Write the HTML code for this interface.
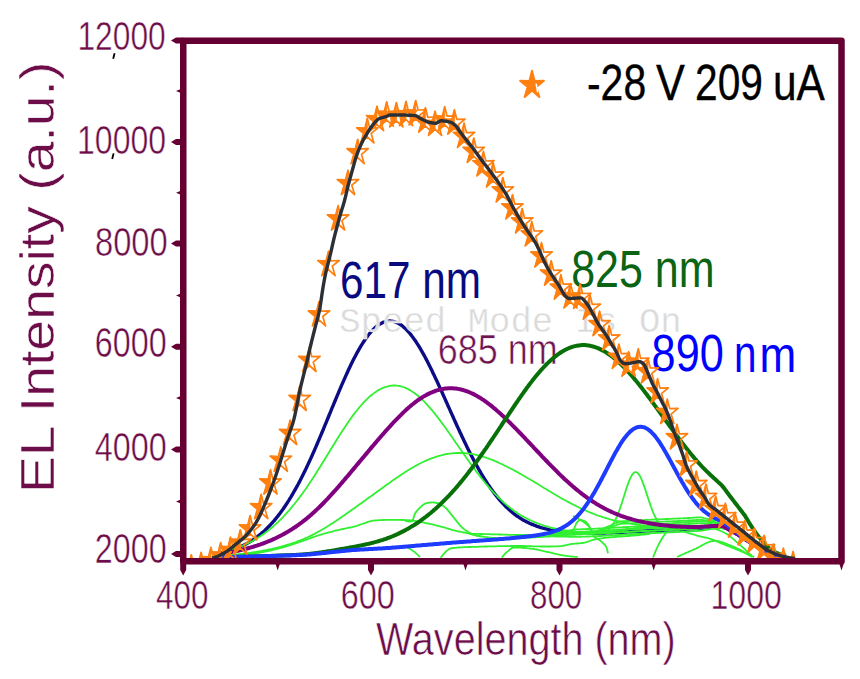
<!DOCTYPE html>
<html><head><meta charset="utf-8"><style>
html,body{margin:0;padding:0;background:#fff;}
svg{display:block;}
text{font-family:"Liberation Sans",sans-serif;}
</style></head><body>
<svg width="860" height="679" viewBox="0 0 860 679">
<rect width="860" height="679" fill="#fff"/>
<text transform="translate(77.48,50.00) scale(0.7846,1)" font-size="40.43" fill="#6c0c48" style="font-family:Liberation Sans" stroke="#fff" stroke-width="0.5">12000</text><text transform="translate(77.05,153.60) scale(0.7920,1)" font-size="40.43" fill="#6c0c48" style="font-family:Liberation Sans" stroke="#fff" stroke-width="0.5">10000</text><text transform="translate(95.00,256.00) scale(0.7908,1)" font-size="41.30" fill="#6c0c48" style="font-family:Liberation Sans" stroke="#fff" stroke-width="0.5">8000</text><text transform="translate(94.81,357.00) scale(0.7656,1)" font-size="42.18" fill="#6c0c48" style="font-family:Liberation Sans" stroke="#fff" stroke-width="0.5">6000</text><text transform="translate(94.80,460.80) scale(0.7821,1)" font-size="41.30" fill="#6c0c48" style="font-family:Liberation Sans" stroke="#fff" stroke-width="0.5">4000</text><text transform="translate(94.81,563.40) scale(0.7765,1)" font-size="41.59" fill="#6c0c48" style="font-family:Liberation Sans" stroke="#fff" stroke-width="0.5">2000</text><text transform="translate(156.02,608.60) scale(0.7792,1)" font-size="40.43" fill="#6c0c48" style="font-family:Liberation Sans" stroke="#fff" stroke-width="0.5">400</text><text transform="translate(340.82,608.80) scale(0.7921,1)" font-size="40.86" fill="#6c0c48" style="font-family:Liberation Sans" stroke="#fff" stroke-width="0.5">600</text><text transform="translate(530.05,608.80) scale(0.7664,1)" font-size="40.86" fill="#6c0c48" style="font-family:Liberation Sans" stroke="#fff" stroke-width="0.5">800</text><text transform="translate(710.44,608.80) scale(0.7855,1)" font-size="40.86" fill="#6c0c48" style="font-family:Liberation Sans" stroke="#fff" stroke-width="0.5">1000</text><path d="M114.6,53.2 L113.2,58.8" stroke="#000" stroke-width="1.8"/><path d="M113.6,153.4 L112.2,159" stroke="#000" stroke-width="1.8"/><text transform="translate(376.00,654.91) scale(0.8504,1)" font-size="46.52" fill="#6c0c48" style="font-family:Liberation Sans" stroke="#fff" stroke-width="0.6">Wavelength (nm)</text><text transform="translate(53.5,493.1) rotate(-90) scale(1.143,1)" font-size="48.4" fill="#6c0c48" stroke="#fff" stroke-width="0.5">EL Intensity (a.u.)</text><text transform="translate(587.00,100.40) scale(0.8324,1)" font-size="49.17" fill="#000" style="font-family:Liberation Sans" stroke="#000" stroke-width="0.35">-28</text><text transform="translate(655.96,100.20) scale(0.8658,1)" font-size="50.00" fill="#000" style="font-family:Liberation Sans" stroke="#000" stroke-width="0.35">V</text><text transform="translate(695.02,100.40) scale(0.8275,1)" font-size="49.17" fill="#000" style="font-family:Liberation Sans" stroke="#000" stroke-width="0.35">209</text><text transform="translate(772.90,100.20) scale(0.8493,1)" font-size="50.00" fill="#000" style="font-family:Liberation Sans" stroke="#000" stroke-width="0.35">uA</text><text transform="translate(340.05,298.23) scale(0.8079,1)" font-size="52.36" fill="#0a0a80" style="font-family:Liberation Sans" >617 nm</text><text transform="translate(437.78,364.03) scale(0.8284,1)" font-size="43.40" fill="#701450" style="font-family:Liberation Sans" stroke="#fff" stroke-width="0.6">685 nm</text><text transform="translate(571.20,287.05) scale(0.8207,1)" font-size="52.39" fill="#0a6414" style="font-family:Liberation Sans" >825 nm</text><text transform="translate(651.58,370.64) scale(0.8443,1)" font-size="51.23" fill="#0000ff" style="font-family:Liberation Sans" >890</text><text transform="translate(733.95,372.40) scale(0.7880,1)" font-size="51.38" fill="#0000ff" style="font-family:Liberation Sans" >n</text><text transform="translate(759.52,372.39) scale(0.8880,1)" font-size="49.61" fill="#0000ff" style="font-family:Liberation Sans" >m</text>
<defs><clipPath id="pc"><rect x="183" y="40" width="659" height="521"/></clipPath></defs>
<g clip-path="url(#pc)">
<path d="M214.0,554.5 L215.0,554.3 L216.0,554.1 L217.0,553.9 L218.0,553.7 L219.0,553.5 L220.0,553.3 L221.0,553.1 L222.0,552.8 L223.0,552.6 L224.0,552.3 L225.0,552.1 L226.0,551.8 L227.0,551.5 L228.0,551.3 L229.0,551.0 L230.0,550.7 L231.0,550.3 L232.0,550.0 L233.0,549.7 L234.0,549.3 L235.0,549.0 L236.0,548.6 L237.0,548.2 L238.0,547.8 L239.0,547.4 L240.0,546.9 L241.0,546.5 L242.0,546.0 L243.0,545.5 L244.0,545.1 L245.0,544.5 L246.0,544.0 L247.0,543.5 L248.0,542.9 L249.0,542.3 L250.0,541.7 L251.0,541.1 L252.0,540.5 L253.0,539.8 L254.0,539.1 L255.0,538.4 L256.0,537.7 L257.0,537.0 L258.0,536.2 L259.0,535.4 L260.0,534.6 L261.0,533.8 L262.0,532.9 L263.0,532.1 L264.0,531.2 L265.0,530.3 L266.0,529.3 L267.0,528.3 L268.0,527.3 L269.0,526.3 L270.0,525.3 L271.0,524.2 L272.0,523.1 L273.0,522.0 L274.0,520.8 L275.0,519.6 L276.0,518.4 L277.0,517.2 L278.0,515.9 L279.0,514.6 L280.0,513.3 L281.0,511.9 L282.0,510.6 L283.0,509.2 L284.0,507.7 L285.0,506.2 L286.0,504.7 L287.0,503.2 L288.0,501.7 L289.0,500.1 L290.0,498.4 L291.0,496.8 L292.0,495.1 L293.0,493.4 L294.0,491.7 L295.0,489.9 L296.0,488.1 L297.0,486.3 L298.0,484.5 L299.0,482.6 L300.0,480.7 L301.0,478.8 L302.0,476.8 L303.0,474.8 L304.0,472.8 L305.0,470.7 L306.0,468.7 L307.0,466.6 L308.0,464.4 L309.0,462.3 L310.0,460.1 L311.0,457.9 L312.0,455.7 L313.0,453.4 L314.0,451.2 L315.0,448.9 L316.0,446.6 L317.0,444.3 L318.0,441.9 L319.0,439.6 L320.0,437.2 L321.0,434.8 L322.0,432.5 L323.0,430.1 L324.0,427.6 L325.0,425.2 L326.0,422.8 L327.0,420.4 L328.0,418.0 L329.0,415.5 L330.0,413.1 L331.0,410.7 L332.0,408.2 L333.0,405.8 L334.0,403.4 L335.0,401.0 L336.0,398.6 L337.0,396.2 L338.0,393.8 L339.0,391.4 L340.0,389.1 L341.0,386.7 L342.0,384.4 L343.0,382.1 L344.0,379.9 L345.0,377.6 L346.0,375.4 L347.0,373.2 L348.0,371.0 L349.0,368.8 L350.0,366.7 L351.0,364.6 L352.0,362.6 L353.0,360.6 L354.0,358.6 L355.0,356.7 L356.0,354.8 L357.0,352.9 L358.0,351.1 L359.0,349.3 L360.0,347.6 L361.0,345.9 L362.0,344.3 L363.0,342.7 L364.0,341.2 L365.0,339.7 L366.0,338.3 L367.0,336.9 L368.0,335.5 L369.0,334.3 L370.0,333.0 L371.0,331.9 L372.0,330.8 L373.0,329.7 L374.0,328.7 L375.0,327.8 L376.0,326.9 L377.0,326.1 L378.0,325.3 L379.0,324.6 L380.0,324.0 L381.0,323.4 L382.0,322.9 L383.0,322.4 L384.0,322.0 L385.0,321.7 L386.0,321.5 L387.0,321.3 L388.0,321.1 L389.0,321.0 L390.0,321.0 L391.0,321.1 L392.0,321.2 L393.0,321.4 L394.0,321.6 L395.0,321.9 L396.0,322.3 L397.0,322.7 L398.0,323.2 L399.0,323.7 L400.0,324.3 L401.0,325.0 L402.0,325.7 L403.0,326.5 L404.0,327.4 L405.0,328.3 L406.0,329.2 L407.0,330.3 L408.0,331.3 L409.0,332.5 L410.0,333.6 L411.0,334.9 L412.0,336.2 L413.0,337.5 L414.0,338.9 L415.0,340.3 L416.0,341.8 L417.0,343.3 L418.0,344.9 L419.0,346.5 L420.0,348.2 L421.0,349.9 L422.0,351.6 L423.0,353.4 L424.0,355.2 L425.0,357.0 L426.0,358.9 L427.0,360.8 L428.0,362.8 L429.0,364.7 L430.0,366.7 L431.0,368.7 L432.0,370.8 L433.0,372.9 L434.0,374.9 L435.0,377.1 L436.0,379.2 L437.0,381.3 L438.0,383.5 L439.0,385.7 L440.0,387.9 L441.0,390.1 L442.0,392.3 L443.0,394.5 L444.0,396.7 L445.0,398.9 L446.0,401.2 L447.0,403.4 L448.0,405.7 L449.0,407.9 L450.0,410.1 L451.0,412.4 L452.0,414.6 L453.0,416.8 L454.0,419.1 L455.0,421.3 L456.0,423.5 L457.0,425.7 L458.0,427.9 L459.0,430.0 L460.0,432.2 L461.0,434.3 L462.0,436.5 L463.0,438.6 L464.0,440.7 L465.0,442.8 L466.0,444.8 L467.0,446.9 L468.0,448.9 L469.0,450.9 L470.0,452.9 L471.0,454.9 L472.0,456.8 L473.0,458.7 L474.0,460.6 L475.0,462.5 L476.0,464.3 L477.0,466.2 L478.0,467.9 L479.0,469.7 L480.0,471.4 L481.0,473.2 L482.0,474.8 L483.0,476.5 L484.0,478.1 L485.0,479.7 L486.0,481.3 L487.0,482.8 L488.0,484.4 L489.0,485.8 L490.0,487.3 L491.0,488.7 L492.0,490.1 L493.0,491.5 L494.0,492.8 L495.0,494.2 L496.0,495.4 L497.0,496.7 L498.0,497.9 L499.0,499.1 L500.0,500.3 L501.0,501.4 L502.0,502.5 L503.0,503.6 L504.0,504.7 L505.0,505.7 L506.0,506.7 L507.0,507.7 L508.0,508.6 L509.0,509.6 L510.0,510.4 L511.0,511.3 L512.0,512.2 L513.0,513.0 L514.0,513.8 L515.0,514.5 L516.0,515.3 L517.0,516.0 L518.0,516.7 L519.0,517.4 L520.0,518.0 L521.0,518.6 L522.0,519.3 L523.0,519.9 L524.0,520.4 L525.0,521.0 L526.0,521.5 L527.0,522.0 L528.0,522.5 L529.0,523.0 L530.0,523.5 L531.0,523.9 L532.0,524.3 L533.0,524.7 L534.0,525.1 L535.0,525.5 L536.0,525.9 L537.0,526.3 L538.0,526.6 L539.0,526.9 L540.0,527.3 L541.0,527.6 L542.0,527.9 L543.0,528.1 L544.0,528.4 L545.0,528.7 L546.0,528.9 L547.0,529.2 L548.0,529.4 L549.0,529.6 L550.0,529.9 L551.0,530.1 L552.0,530.3 L553.0,530.4 L554.0,530.6 L555.0,530.8 L556.0,531.0 L557.0,531.1 L558.0,531.3 L559.0,531.4 L560.0,531.5 L561.0,531.7 L562.0,531.8 L563.0,531.9 L564.0,532.0 L565.0,532.1 L566.0,532.2 L567.0,532.3 L568.0,532.4 L569.0,532.5 L570.0,532.5 L571.0,532.6 L572.0,532.7 L573.0,532.7 L574.0,532.8 L575.0,532.9 L576.0,532.9 L577.0,532.9 L578.0,533.0 L579.0,533.0 L580.0,533.1 L581.0,533.1 L582.0,533.1 L583.0,533.1 L584.0,533.2 L585.0,533.2 L586.0,533.2 L587.0,533.2 L588.0,533.2 L589.0,533.2 L590.0,533.2 L591.0,533.2 L592.0,533.2 L593.0,533.2 L594.0,533.2 L595.0,533.2 L596.0,533.2 L597.0,533.2 L598.0,533.1 L599.0,533.1 L600.0,533.1 L601.0,533.1 L602.0,533.1 L603.0,533.0 L604.0,533.0 L605.0,533.0 L606.0,532.9 L607.0,532.9 L608.0,532.9 L609.0,532.8 L610.0,532.8 L611.0,532.7 L612.0,532.7 L613.0,532.6 L614.0,532.6 L615.0,532.6 L616.0,532.5 L617.0,532.5 L618.0,532.4 L619.0,532.4 L620.0,532.3 L621.0,532.3 L622.0,532.2 L623.0,532.2 L624.0,532.1 L625.0,532.0 L626.0,532.0 L627.0,531.9 L628.0,531.9 L629.0,531.8 L630.0,531.8 L631.0,531.7 L632.0,531.7 L633.0,531.6 L634.0,531.6 L635.0,531.5 L636.0,531.5 L637.0,531.4 L638.0,531.3 L639.0,531.3 L640.0,531.2 L641.0,531.2 L642.0,531.1 L643.0,531.1 L644.0,531.0 L645.0,531.0 L646.0,530.9 L647.0,530.9 L648.0,530.8 L649.0,530.8 L650.0,530.7 L651.0,530.7 L652.0,530.6 L653.0,530.6 L654.0,530.6 L655.0,530.5 L656.0,530.5 L657.0,530.4 L658.0,530.4 L659.0,530.3 L660.0,530.3 L661.0,530.3 L662.0,530.2 L663.0,530.2 L664.0,530.1 L665.0,530.1 L666.0,530.0 L667.0,530.0 L668.0,530.0 L669.0,529.9 L670.0,529.9 L671.0,529.8 L672.0,529.8 L673.0,529.7 L674.0,529.7 L675.0,529.7 L676.0,529.6 L677.0,529.6 L678.0,529.5 L679.0,529.5 L680.0,529.4 L681.0,529.4 L682.0,529.3 L683.0,529.3 L684.0,529.2 L685.0,529.2 L686.0,529.1 L687.0,529.1 L688.0,529.0 L689.0,529.0 L690.0,528.9 L691.0,528.9 L692.0,528.8 L693.0,528.7 L694.0,528.7 L695.0,528.6 L696.0,528.6 L697.0,528.5 L698.0,528.4 L699.0,528.3 L700.0,528.3 L701.0,528.2 L702.0,528.1 L703.0,528.0 L704.0,527.8 L705.0,527.7 L706.0,527.6 L707.0,527.5 L708.0,527.4 L709.0,527.3 L710.0,527.1 L711.0,527.0 L712.0,526.9 L713.0,526.8 L714.0,526.8 L715.0,526.7 L716.0,526.6 L717.0,526.6 L718.0,526.5 L719.0,526.5 L720.0,526.5 L721.0,526.6 L722.0,526.7 L723.0,527.0 L724.0,527.4 L725.0,527.8 L726.0,528.3 L727.0,528.8 L728.0,529.3 L729.0,529.9 L730.0,530.4 L731.0,531.0 L732.0,531.5 L733.0,532.0 L734.0,532.5 L735.0,533.1 L736.0,533.7 L737.0,534.3 L738.0,534.9 L739.0,535.5 L740.0,536.2 L741.0,536.8 L742.0,537.5 L743.0,538.1 L744.0,538.8 L745.0,539.4 L746.0,540.0 L747.0,540.6 L748.0,541.2 L749.0,541.9 L750.0,542.5 L751.0,543.1 L752.0,543.7 L753.0,544.4 L754.0,545.0 L755.0,545.6 L756.0,546.2 L757.0,546.8 L758.0,547.4 L759.0,547.9 L760.0,548.5 L761.0,549.1 L762.0,549.6 L763.0,550.2 L764.0,550.7 L765.0,551.3 L766.0,551.8 L767.0,552.4 L768.0,552.9 L769.0,553.4 L770.0,553.9 L771.0,554.3 L772.0,554.8 L773.0,555.2 L774.0,555.5 L775.0,555.8 L776.0,556.1 L777.0,556.5 L778.0,556.8 L779.0,557.0 L780.0,557.3 L781.0,557.5 L782.0,557.7 L783.0,557.9 L784.0,558.0 L785.0,558.1 L786.0,558.2" fill="none" stroke="#0c0c86" stroke-width="3.4"/>
<g fill="none" stroke="#30f030" stroke-width="1.8"><path d="M214.0,553.9 L215.0,553.8 L216.0,553.6 L217.0,553.4 L218.0,553.1 L219.0,552.9 L220.0,552.7 L221.0,552.5 L222.0,552.3 L223.0,552.0 L224.0,551.8 L225.0,551.5 L226.0,551.3 L227.0,551.0 L228.0,550.7 L229.0,550.5 L230.0,550.2 L231.0,549.9 L232.0,549.6 L233.0,549.2 L234.0,548.9 L235.0,548.6 L236.0,548.3 L237.0,547.9 L238.0,547.5 L239.0,547.2 L240.0,546.8 L241.0,546.4 L242.0,546.0 L243.0,545.6 L244.0,545.1 L245.0,544.7 L246.0,544.2 L247.0,543.8 L248.0,543.3 L249.0,542.8 L250.0,542.3 L251.0,541.8 L252.0,541.2 L253.0,540.7 L254.0,540.1 L255.0,539.5 L256.0,539.0 L257.0,538.3 L258.0,537.7 L259.0,537.1 L260.0,536.5 L261.0,535.8 L262.0,535.1 L263.0,534.4 L264.0,533.7 L265.0,533.0 L266.0,532.2 L267.0,531.5 L268.0,530.7 L269.0,529.9 L270.0,529.1 L271.0,528.3 L272.0,527.5 L273.0,526.6 L274.0,525.7 L275.0,524.8 L276.0,523.9 L277.0,523.0 L278.0,522.1 L279.0,521.1 L280.0,520.1 L281.0,519.1 L282.0,518.1 L283.0,517.1 L284.0,516.0 L285.0,514.9 L286.0,513.8 L287.0,512.7 L288.0,511.6 L289.0,510.5 L290.0,509.3 L291.0,508.1 L292.0,506.9 L293.0,505.7 L294.0,504.5 L295.0,503.3 L296.0,502.0 L297.0,500.7 L298.0,499.4 L299.0,498.1 L300.0,496.8 L301.0,495.4 L302.0,494.1 L303.0,492.7 L304.0,491.3 L305.0,489.9 L306.0,488.4 L307.0,487.0 L308.0,485.5 L309.0,484.0 L310.0,482.5 L311.0,481.0 L312.0,479.5 L313.0,478.0 L314.0,476.4 L315.0,474.9 L316.0,473.3 L317.0,471.7 L318.0,470.1 L319.0,468.5 L320.0,466.9 L321.0,465.3 L322.0,463.7 L323.0,462.1 L324.0,460.5 L325.0,458.8 L326.0,457.2 L327.0,455.6 L328.0,453.9 L329.0,452.3 L330.0,450.7 L331.0,449.0 L332.0,447.4 L333.0,445.8 L334.0,444.2 L335.0,442.5 L336.0,440.9 L337.0,439.3 L338.0,437.7 L339.0,436.1 L340.0,434.6 L341.0,433.0 L342.0,431.5 L343.0,429.9 L344.0,428.4 L345.0,426.9 L346.0,425.4 L347.0,423.9 L348.0,422.4 L349.0,421.0 L350.0,419.6 L351.0,418.2 L352.0,416.8 L353.0,415.4 L354.0,414.1 L355.0,412.8 L356.0,411.5 L357.0,410.2 L358.0,409.0 L359.0,407.8 L360.0,406.6 L361.0,405.5 L362.0,404.3 L363.0,403.2 L364.0,402.1 L365.0,401.1 L366.0,400.1 L367.0,399.1 L368.0,398.2 L369.0,397.2 L370.0,396.3 L371.0,395.5 L372.0,394.7 L373.0,393.9 L374.0,393.1 L375.0,392.4 L376.0,391.7 L377.0,391.1 L378.0,390.4 L379.0,389.9 L380.0,389.3 L381.0,388.8 L382.0,388.3 L383.0,387.9 L384.0,387.5 L385.0,387.1 L386.0,386.8 L387.0,386.5 L388.0,386.3 L389.0,386.0 L390.0,385.9 L391.0,385.7 L392.0,385.6 L393.0,385.5 L394.0,385.5 L395.0,385.5 L396.0,385.6 L397.0,385.7 L398.0,385.8 L399.0,385.9 L400.0,386.1 L401.0,386.4 L402.0,386.6 L403.0,387.0 L404.0,387.3 L405.0,387.7 L406.0,388.1 L407.0,388.6 L408.0,389.0 L409.0,389.6 L410.0,390.1 L411.0,390.7 L412.0,391.4 L413.0,392.0 L414.0,392.7 L415.0,393.4 L416.0,394.2 L417.0,395.0 L418.0,395.8 L419.0,396.7 L420.0,397.6 L421.0,398.5 L422.0,399.4 L423.0,400.4 L424.0,401.4 L425.0,402.4 L426.0,403.5 L427.0,404.5 L428.0,405.6 L429.0,406.8 L430.0,407.9 L431.0,409.1 L432.0,410.2 L433.0,411.5 L434.0,412.7 L435.0,413.9 L436.0,415.2 L437.0,416.5 L438.0,417.8 L439.0,419.1 L440.0,420.4 L441.0,421.7 L442.0,423.1 L443.0,424.4 L444.0,425.8 L445.0,427.2 L446.0,428.6 L447.0,430.0 L448.0,431.4 L449.0,432.8 L450.0,434.2 L451.0,435.7 L452.0,437.1 L453.0,438.5 L454.0,440.0 L455.0,441.4 L456.0,442.9 L457.0,444.3 L458.0,445.8 L459.0,447.2 L460.0,448.7 L461.0,450.1 L462.0,451.5 L463.0,453.0 L464.0,454.4 L465.0,455.8 L466.0,457.3 L467.0,458.7 L468.0,460.1 L469.0,461.5 L470.0,462.9 L471.0,464.3 L472.0,465.7 L473.0,467.0 L474.0,468.4 L475.0,469.7 L476.0,471.1 L477.0,472.4 L478.0,473.7 L479.0,475.0 L480.0,476.3 L481.0,477.6 L482.0,478.8 L483.0,480.1 L484.0,481.3 L485.0,482.6 L486.0,483.8 L487.0,484.9 L488.0,486.1 L489.0,487.3 L490.0,488.4 L491.0,489.6 L492.0,490.7 L493.0,491.8 L494.0,492.8 L495.0,493.9 L496.0,494.9 L497.0,496.0 L498.0,497.0 L499.0,498.0 L500.0,498.9 L501.0,499.9 L502.0,500.8 L503.0,501.8 L504.0,502.7 L505.0,503.5 L506.0,504.4 L507.0,505.3 L508.0,506.1 L509.0,506.9 L510.0,507.7 L511.0,508.5 L512.0,509.2 L513.0,510.0 L514.0,510.7 L515.0,511.4 L516.0,512.1 L517.0,512.7 L518.0,513.4 L519.0,514.0 L520.0,514.7 L521.0,515.3 L522.0,515.9 L523.0,516.4 L524.0,517.0 L525.0,517.5 L526.0,518.1 L527.0,518.6 L528.0,519.1 L529.0,519.6 L530.0,520.1 L531.0,520.5 L532.0,521.0 L533.0,521.4 L534.0,521.9 L535.0,522.3 L536.0,522.7 L537.0,523.1 L538.0,523.5 L539.0,523.8 L540.0,524.2 L541.0,524.5 L542.0,524.9 L543.0,525.2 L544.0,525.5 L545.0,525.9 L546.0,526.2 L547.0,526.5 L548.0,526.7 L549.0,527.0 L550.0,527.3 L551.0,527.5 L552.0,527.8 L553.0,528.0 L554.0,528.3 L555.0,528.5 L556.0,528.7 L557.0,528.9 L558.0,529.1 L559.0,529.3 L560.0,529.5 L561.0,529.7 L562.0,529.9 L563.0,530.0 L564.0,530.2 L565.0,530.3 L566.0,530.5 L567.0,530.6 L568.0,530.8 L569.0,530.9 L570.0,531.0 L571.0,531.1 L572.0,531.2 L573.0,531.3 L574.0,531.4 L575.0,531.5 L576.0,531.6 L577.0,531.7 L578.0,531.8 L579.0,531.9 L580.0,532.0 L581.0,532.0 L582.0,532.1 L583.0,532.1 L584.0,532.2 L585.0,532.3 L586.0,532.3 L587.0,532.3 L588.0,532.4 L589.0,532.4 L590.0,532.5 L591.0,532.5 L592.0,532.5 L593.0,532.5 L594.0,532.5 L595.0,532.6 L596.0,532.6 L597.0,532.6 L598.0,532.6 L599.0,532.6 L600.0,532.6 L601.0,532.6 L602.0,532.6 L603.0,532.6 L604.0,532.6 L605.0,532.5 L606.0,532.5 L607.0,532.5 L608.0,532.5 L609.0,532.5 L610.0,532.4 L611.0,532.4 L612.0,532.4 L613.0,532.4 L614.0,532.3 L615.0,532.3 L616.0,532.3 L617.0,532.2 L618.0,532.2 L619.0,532.1 L620.0,532.1 L621.0,532.1 L622.0,532.0 L623.0,532.0 L624.0,531.9 L625.0,531.9 L626.0,531.8 L627.0,531.8 L628.0,531.7 L629.0,531.7 L630.0,531.7 L631.0,531.6 L632.0,531.6 L633.0,531.5 L634.0,531.5 L635.0,531.4 L636.0,531.4 L637.0,531.3 L638.0,531.3 L639.0,531.2 L640.0,531.2 L641.0,531.1 L642.0,531.1 L643.0,531.0 L644.0,531.0 L645.0,530.9 L646.0,530.9 L647.0,530.8 L648.0,530.8 L649.0,530.7 L650.0,530.7 L651.0,530.7 L652.0,530.6 L653.0,530.6 L654.0,530.5 L655.0,530.5 L656.0,530.4 L657.0,530.4 L658.0,530.4 L659.0,530.3 L660.0,530.3 L661.0,530.2 L662.0,530.2 L663.0,530.1 L664.0,530.1 L665.0,530.1 L666.0,530.0 L667.0,530.0 L668.0,529.9 L669.0,529.9 L670.0,529.9 L671.0,529.8 L672.0,529.8 L673.0,529.7 L674.0,529.7 L675.0,529.6 L676.0,529.6 L677.0,529.6 L678.0,529.5 L679.0,529.5 L680.0,529.4 L681.0,529.4 L682.0,529.3 L683.0,529.3 L684.0,529.2 L685.0,529.2 L686.0,529.1 L687.0,529.1 L688.0,529.0 L689.0,529.0 L690.0,528.9 L691.0,528.9 L692.0,528.8 L693.0,528.7 L694.0,528.7 L695.0,528.6 L696.0,528.6 L697.0,528.5 L698.0,528.4 L699.0,528.3 L700.0,528.3 L701.0,528.2 L702.0,528.1 L703.0,528.0 L704.0,527.8 L705.0,527.7 L706.0,527.6 L707.0,527.5 L708.0,527.4 L709.0,527.3 L710.0,527.1 L711.0,527.0 L712.0,526.9 L713.0,526.8 L714.0,526.8 L715.0,526.7 L716.0,526.6 L717.0,526.6 L718.0,526.5 L719.0,526.5 L720.0,526.5 L721.0,526.6 L722.0,526.7 L723.0,527.0 L724.0,527.4 L725.0,527.8 L726.0,528.3 L727.0,528.8 L728.0,529.3 L729.0,529.9 L730.0,530.4 L731.0,531.0 L732.0,531.5 L733.0,532.0 L734.0,532.5 L735.0,533.1 L736.0,533.7 L737.0,534.3 L738.0,534.9 L739.0,535.5 L740.0,536.2 L741.0,536.8 L742.0,537.5 L743.0,538.1 L744.0,538.8 L745.0,539.4 L746.0,540.0 L747.0,540.6 L748.0,541.2 L749.0,541.9 L750.0,542.5 L751.0,543.1 L752.0,543.7 L753.0,544.4 L754.0,545.0 L755.0,545.6 L756.0,546.2 L757.0,546.8 L758.0,547.4 L759.0,547.9 L760.0,548.5 L761.0,549.1 L762.0,549.6 L763.0,550.2 L764.0,550.7 L765.0,551.3 L766.0,551.8 L767.0,552.4 L768.0,552.9 L769.0,553.4 L770.0,553.9 L771.0,554.3 L772.0,554.8 L773.0,555.2 L774.0,555.5 L775.0,555.8 L776.0,556.1 L777.0,556.5 L778.0,556.8 L779.0,557.0 L780.0,557.3 L781.0,557.5 L782.0,557.7 L783.0,557.9 L784.0,558.0 L785.0,558.1 L786.0,558.2"/><path d="M214.0,556.4 L215.0,556.3 L216.0,556.3 L217.0,556.2 L218.0,556.1 L219.0,556.0 L220.0,555.9 L221.0,555.9 L222.0,555.8 L223.0,555.7 L224.0,555.6 L225.0,555.5 L226.0,555.4 L227.0,555.4 L228.0,555.3 L229.0,555.2 L230.0,555.1 L231.0,555.0 L232.0,554.9 L233.0,554.8 L234.0,554.7 L235.0,554.6 L236.0,554.5 L237.0,554.4 L238.0,554.3 L239.0,554.2 L240.0,554.1 L241.0,554.0 L242.0,553.9 L243.0,553.7 L244.0,553.6 L245.0,553.5 L246.0,553.4 L247.0,553.2 L248.0,553.1 L249.0,553.0 L250.0,552.8 L251.0,552.7 L252.0,552.5 L253.0,552.4 L254.0,552.2 L255.0,552.1 L256.0,551.9 L257.0,551.7 L258.0,551.6 L259.0,551.4 L260.0,551.2 L261.0,551.1 L262.0,550.9 L263.0,550.7 L264.0,550.5 L265.0,550.3 L266.0,550.1 L267.0,549.9 L268.0,549.7 L269.0,549.5 L270.0,549.3 L271.0,549.1 L272.0,548.9 L273.0,548.6 L274.0,548.4 L275.0,548.2 L276.0,547.9 L277.0,547.7 L278.0,547.4 L279.0,547.2 L280.0,546.9 L281.0,546.7 L282.0,546.4 L283.0,546.1 L284.0,545.8 L285.0,545.5 L286.0,545.2 L287.0,544.9 L288.0,544.6 L289.0,544.3 L290.0,544.0 L291.0,543.7 L292.0,543.3 L293.0,543.0 L294.0,542.7 L295.0,542.3 L296.0,542.0 L297.0,541.6 L298.0,541.2 L299.0,540.8 L300.0,540.5 L301.0,540.1 L302.0,539.7 L303.0,539.2 L304.0,538.8 L305.0,538.4 L306.0,537.9 L307.0,537.5 L308.0,537.0 L309.0,536.6 L310.0,536.1 L311.0,535.6 L312.0,535.1 L313.0,534.6 L314.0,534.1 L315.0,533.5 L316.0,533.0 L317.0,532.5 L318.0,531.9 L319.0,531.4 L320.0,530.8 L321.0,530.2 L322.0,529.7 L323.0,529.1 L324.0,528.5 L325.0,527.9 L326.0,527.3 L327.0,526.7 L328.0,526.0 L329.0,525.4 L330.0,524.8 L331.0,524.1 L332.0,523.5 L333.0,522.9 L334.0,522.2 L335.0,521.5 L336.0,520.9 L337.0,520.2 L338.0,519.5 L339.0,518.9 L340.0,518.2 L341.0,517.5 L342.0,516.8 L343.0,516.1 L344.0,515.4 L345.0,514.7 L346.0,514.0 L347.0,513.3 L348.0,512.6 L349.0,511.9 L350.0,511.2 L351.0,510.5 L352.0,509.8 L353.0,509.1 L354.0,508.4 L355.0,507.7 L356.0,507.0 L357.0,506.3 L358.0,505.5 L359.0,504.8 L360.0,504.1 L361.0,503.4 L362.0,502.7 L363.0,502.0 L364.0,501.2 L365.0,500.5 L366.0,499.8 L367.0,499.1 L368.0,498.3 L369.0,497.6 L370.0,496.9 L371.0,496.2 L372.0,495.5 L373.0,494.7 L374.0,494.0 L375.0,493.3 L376.0,492.6 L377.0,491.8 L378.0,491.1 L379.0,490.4 L380.0,489.7 L381.0,488.9 L382.0,488.2 L383.0,487.5 L384.0,486.8 L385.0,486.0 L386.0,485.3 L387.0,484.6 L388.0,483.9 L389.0,483.2 L390.0,482.5 L391.0,481.7 L392.0,481.0 L393.0,480.3 L394.0,479.6 L395.0,478.9 L396.0,478.2 L397.0,477.5 L398.0,476.9 L399.0,476.2 L400.0,475.5 L401.0,474.8 L402.0,474.2 L403.0,473.5 L404.0,472.9 L405.0,472.2 L406.0,471.6 L407.0,470.9 L408.0,470.3 L409.0,469.7 L410.0,469.1 L411.0,468.5 L412.0,467.9 L413.0,467.3 L414.0,466.7 L415.0,466.2 L416.0,465.6 L417.0,465.1 L418.0,464.5 L419.0,464.0 L420.0,463.5 L421.0,463.0 L422.0,462.5 L423.0,462.0 L424.0,461.5 L425.0,461.1 L426.0,460.6 L427.0,460.2 L428.0,459.8 L429.0,459.4 L430.0,458.9 L431.0,458.6 L432.0,458.2 L433.0,457.8 L434.0,457.5 L435.0,457.1 L436.0,456.8 L437.0,456.5 L438.0,456.2 L439.0,455.9 L440.0,455.6 L441.0,455.3 L442.0,455.1 L443.0,454.8 L444.0,454.6 L445.0,454.4 L446.0,454.2 L447.0,454.0 L448.0,453.9 L449.0,453.7 L450.0,453.6 L451.0,453.5 L452.0,453.3 L453.0,453.2 L454.0,453.2 L455.0,453.1 L456.0,453.0 L457.0,453.0 L458.0,453.0 L459.0,453.0 L460.0,453.0 L461.0,453.0 L462.0,453.0 L463.0,453.1 L464.0,453.1 L465.0,453.2 L466.0,453.3 L467.0,453.4 L468.0,453.5 L469.0,453.6 L470.0,453.7 L471.0,453.9 L472.0,454.1 L473.0,454.2 L474.0,454.4 L475.0,454.6 L476.0,454.8 L477.0,455.1 L478.0,455.3 L479.0,455.6 L480.0,455.8 L481.0,456.1 L482.0,456.4 L483.0,456.7 L484.0,457.0 L485.0,457.3 L486.0,457.6 L487.0,458.0 L488.0,458.3 L489.0,458.7 L490.0,459.1 L491.0,459.4 L492.0,459.8 L493.0,460.2 L494.0,460.6 L495.0,461.1 L496.0,461.5 L497.0,461.9 L498.0,462.4 L499.0,462.8 L500.0,463.3 L501.0,463.7 L502.0,464.2 L503.0,464.7 L504.0,465.2 L505.0,465.7 L506.0,466.2 L507.0,466.7 L508.0,467.2 L509.0,467.7 L510.0,468.2 L511.0,468.7 L512.0,469.3 L513.0,469.8 L514.0,470.3 L515.0,470.9 L516.0,471.4 L517.0,472.0 L518.0,472.5 L519.0,473.1 L520.0,473.6 L521.0,474.2 L522.0,474.8 L523.0,475.3 L524.0,475.9 L525.0,476.5 L526.0,477.1 L527.0,477.7 L528.0,478.3 L529.0,478.8 L530.0,479.4 L531.0,480.0 L532.0,480.6 L533.0,481.2 L534.0,481.8 L535.0,482.4 L536.0,483.0 L537.0,483.6 L538.0,484.2 L539.0,484.8 L540.0,485.4 L541.0,486.0 L542.0,486.7 L543.0,487.3 L544.0,487.9 L545.0,488.5 L546.0,489.1 L547.0,489.7 L548.0,490.3 L549.0,490.9 L550.0,491.5 L551.0,492.1 L552.0,492.7 L553.0,493.3 L554.0,493.9 L555.0,494.5 L556.0,495.1 L557.0,495.7 L558.0,496.3 L559.0,496.8 L560.0,497.4 L561.0,498.0 L562.0,498.6 L563.0,499.1 L564.0,499.7 L565.0,500.2 L566.0,500.8 L567.0,501.3 L568.0,501.9 L569.0,502.4 L570.0,502.9 L571.0,503.5 L572.0,504.0 L573.0,504.5 L574.0,505.0 L575.0,505.5 L576.0,506.0 L577.0,506.5 L578.0,507.0 L579.0,507.5 L580.0,508.0 L581.0,508.5 L582.0,508.9 L583.0,509.4 L584.0,509.8 L585.0,510.3 L586.0,510.7 L587.0,511.1 L588.0,511.6 L589.0,512.0 L590.0,512.4 L591.0,512.8 L592.0,513.2 L593.0,513.6 L594.0,514.0 L595.0,514.4 L596.0,514.8 L597.0,515.1 L598.0,515.5 L599.0,515.8 L600.0,516.2 L601.0,516.5 L602.0,516.8 L603.0,517.2 L604.0,517.5 L605.0,517.8 L606.0,518.1 L607.0,518.4 L608.0,518.7 L609.0,519.0 L610.0,519.3 L611.0,519.5 L612.0,519.8 L613.0,520.1 L614.0,520.3 L615.0,520.6 L616.0,520.8 L617.0,521.0 L618.0,521.3 L619.0,521.5 L620.0,521.7 L621.0,521.9 L622.0,522.1 L623.0,522.3 L624.0,522.5 L625.0,522.7 L626.0,522.9 L627.0,523.1 L628.0,523.3 L629.0,523.4 L630.0,523.6 L631.0,523.8 L632.0,523.9 L633.0,524.1 L634.0,524.2 L635.0,524.4 L636.0,524.5 L637.0,524.6 L638.0,524.8 L639.0,524.9 L640.0,525.0 L641.0,525.1 L642.0,525.3 L643.0,525.4 L644.0,525.5 L645.0,525.6 L646.0,525.7 L647.0,525.8 L648.0,525.9 L649.0,526.0 L650.0,526.1 L651.0,526.2 L652.0,526.3 L653.0,526.4 L654.0,526.4 L655.0,526.5 L656.0,526.6 L657.0,526.7 L658.0,526.7 L659.0,526.8 L660.0,526.9 L661.0,526.9 L662.0,527.0 L663.0,527.1 L664.0,527.1 L665.0,527.2 L666.0,527.2 L667.0,527.3 L668.0,527.3 L669.0,527.4 L670.0,527.4 L671.0,527.4 L672.0,527.5 L673.0,527.5 L674.0,527.5 L675.0,527.6 L676.0,527.6 L677.0,527.6 L678.0,527.6 L679.0,527.7 L680.0,527.7 L681.0,527.7 L682.0,527.7 L683.0,527.7 L684.0,527.7 L685.0,527.7 L686.0,527.7 L687.0,527.7 L688.0,527.7 L689.0,527.7 L690.0,527.7 L691.0,527.7 L692.0,527.7 L693.0,527.6 L694.0,527.6 L695.0,527.6 L696.0,527.6 L697.0,527.5 L698.0,527.5 L699.0,527.5 L700.0,527.4 L701.0,527.3 L702.0,527.3 L703.0,527.2 L704.0,527.1 L705.0,527.0 L706.0,526.9 L707.0,526.8 L708.0,526.7 L709.0,526.7 L710.0,526.6 L711.0,526.5 L712.0,526.4 L713.0,526.3 L714.0,526.3 L715.0,526.2 L716.0,526.2 L717.0,526.1 L718.0,526.1 L719.0,526.1 L720.0,526.1 L721.0,526.2 L722.0,526.4 L723.0,526.7 L724.0,527.0 L725.0,527.5 L726.0,528.0 L727.0,528.5 L728.0,529.1 L729.0,529.6 L730.0,530.2 L731.0,530.7 L732.0,531.3 L733.0,531.8 L734.0,532.3 L735.0,532.9 L736.0,533.5 L737.0,534.1 L738.0,534.7 L739.0,535.4 L740.0,536.0 L741.0,536.7 L742.0,537.3 L743.0,538.0 L744.0,538.6 L745.0,539.3 L746.0,539.9 L747.0,540.5 L748.0,541.1 L749.0,541.7 L750.0,542.4 L751.0,543.0 L752.0,543.6 L753.0,544.3 L754.0,544.9 L755.0,545.5 L756.0,546.1 L757.0,546.7 L758.0,547.3 L759.0,547.9 L760.0,548.4 L761.0,549.0 L762.0,549.6 L763.0,550.1 L764.0,550.7 L765.0,551.2 L766.0,551.8 L767.0,552.3 L768.0,552.9 L769.0,553.4 L770.0,553.9 L771.0,554.3 L772.0,554.7 L773.0,555.1 L774.0,555.5 L775.0,555.8 L776.0,556.1 L777.0,556.4 L778.0,556.7 L779.0,557.0 L780.0,557.3 L781.0,557.5 L782.0,557.7 L783.0,557.9 L784.0,558.0 L785.0,558.1 L786.0,558.2"/><path d="M560.0,535.0 L561.0,535.0 L562.0,534.9 L563.0,534.9 L564.0,534.9 L565.0,534.8 L566.0,534.8 L567.0,534.8 L568.0,534.7 L569.0,534.7 L570.0,534.7 L571.0,534.6 L572.0,534.6 L573.0,534.5 L574.0,534.5 L575.0,534.5 L576.0,534.4 L577.0,534.4 L578.0,534.4 L579.0,534.3 L580.0,534.3 L581.0,534.3 L582.0,534.2 L583.0,534.2 L584.0,534.2 L585.0,534.1 L586.0,534.1 L587.0,534.0 L588.0,534.0 L589.0,534.0 L590.0,533.9 L591.0,533.9 L592.0,533.8 L593.0,533.7 L594.0,533.7 L595.0,533.6 L596.0,533.5 L597.0,533.4 L598.0,533.3 L599.0,533.2 L600.0,533.0 L601.0,532.8 L602.0,532.6 L603.0,532.3 L604.0,531.9 L605.0,531.5 L606.0,531.0 L607.0,530.4 L608.0,529.7 L609.0,528.9 L610.0,527.9 L611.0,526.8 L612.0,525.5 L613.0,524.1 L614.0,522.4 L615.0,520.6 L616.0,518.5 L617.0,516.3 L618.0,513.9 L619.0,511.3 L620.0,508.5 L621.0,505.5 L622.0,502.5 L623.0,499.3 L624.0,496.2 L625.0,493.0 L626.0,489.8 L627.0,486.8 L628.0,483.9 L629.0,481.3 L630.0,478.9 L631.0,476.8 L632.0,475.0 L633.0,473.6 L634.0,472.7 L635.0,472.2 L636.0,472.1 L637.0,472.5 L638.0,473.4 L639.0,474.6 L640.0,476.2 L641.0,478.2 L642.0,480.5 L643.0,483.1 L644.0,485.9 L645.0,488.8 L646.0,491.8 L647.0,494.9 L648.0,497.9 L649.0,501.0 L650.0,503.9 L651.0,506.8 L652.0,509.4 L653.0,512.0 L654.0,514.3 L655.0,516.4 L656.0,518.3 L657.0,520.1 L658.0,521.6 L659.0,523.0 L660.0,524.2 L661.0,525.2 L662.0,526.0 L663.0,526.8 L664.0,527.4 L665.0,527.9 L666.0,528.3 L667.0,528.6 L668.0,528.9 L669.0,529.1 L670.0,529.2 L671.0,529.3 L672.0,529.4 L673.0,529.5 L674.0,529.5 L675.0,529.5 L676.0,529.5 L677.0,529.5 L678.0,529.5 L679.0,529.4 L680.0,529.4 L681.0,529.4 L682.0,529.3 L683.0,529.3 L684.0,529.2 L685.0,529.2 L686.0,529.1 L687.0,529.1 L688.0,529.0 L689.0,529.0 L690.0,528.9 L691.0,528.9 L692.0,528.8 L693.0,528.7 L694.0,528.7 L695.0,528.6 L696.0,528.6 L697.0,528.5 L698.0,528.4 L699.0,528.4 L700.0,528.3 L701.0,528.2 L702.0,528.1 L703.0,528.0 L704.0,527.8 L705.0,527.7 L706.0,527.6 L707.0,527.5 L708.0,527.4 L709.0,527.3 L710.0,527.1 L711.0,527.0 L712.0,526.9 L713.0,526.8 L714.0,526.8 L715.0,526.7 L716.0,526.6 L717.0,526.6 L718.0,526.5 L719.0,526.5 L720.0,526.5"/><path d="M560.0,534.9 L561.0,534.9 L562.0,534.8 L563.0,534.8 L564.0,534.7 L565.0,534.7 L566.0,534.6 L567.0,534.6 L568.0,534.5 L569.0,534.5 L570.0,534.5 L571.0,534.4 L572.0,534.4 L573.0,534.3 L574.0,534.3 L575.0,534.2 L576.0,534.2 L577.0,534.1 L578.0,534.1 L579.0,534.0 L580.0,533.9 L581.0,533.9 L582.0,533.8 L583.0,533.8 L584.0,533.7 L585.0,533.7 L586.0,533.6 L587.0,533.5 L588.0,533.5 L589.0,533.4 L590.0,533.3 L591.0,533.3 L592.0,533.2 L593.0,533.1 L594.0,533.0 L595.0,533.0 L596.0,532.9 L597.0,532.8 L598.0,532.7 L599.0,532.6 L600.0,532.6 L601.0,532.5 L602.0,532.4 L603.0,532.3 L604.0,532.2 L605.0,532.1 L606.0,532.0 L607.0,531.9 L608.0,531.8 L609.0,531.7 L610.0,531.5 L611.0,531.4 L612.0,531.3 L613.0,531.2 L614.0,531.1 L615.0,531.0 L616.0,530.8 L617.0,530.7 L618.0,530.6 L619.0,530.5 L620.0,530.3 L621.0,530.2 L622.0,530.1 L623.0,529.9 L624.0,529.8 L625.0,529.7 L626.0,529.5 L627.0,529.4 L628.0,529.2 L629.0,529.1 L630.0,529.0 L631.0,528.8 L632.0,528.7 L633.0,528.5 L634.0,528.4 L635.0,528.2 L636.0,528.1 L637.0,527.9 L638.0,527.8 L639.0,527.6 L640.0,527.5 L641.0,527.3 L642.0,527.2 L643.0,527.0 L644.0,526.9 L645.0,526.8 L646.0,526.6 L647.0,526.5 L648.0,526.3 L649.0,526.2 L650.0,526.0 L651.0,525.9 L652.0,525.8 L653.0,525.6 L654.0,525.5 L655.0,525.3 L656.0,525.2 L657.0,525.1 L658.0,525.0 L659.0,524.8 L660.0,524.7 L661.0,524.6 L662.0,524.4 L663.0,524.3 L664.0,524.2 L665.0,524.1 L666.0,524.0 L667.0,523.9 L668.0,523.7 L669.0,523.6 L670.0,523.5 L671.0,523.4 L672.0,523.3 L673.0,523.2 L674.0,523.1 L675.0,523.0 L676.0,522.9 L677.0,522.9 L678.0,522.8 L679.0,522.7 L680.0,522.6 L681.0,522.5 L682.0,522.4 L683.0,522.4 L684.0,522.3 L685.0,522.2 L686.0,522.2 L687.0,522.1 L688.0,522.0 L689.0,522.0 L690.0,521.9 L691.0,521.9 L692.0,521.8 L693.0,521.8 L694.0,521.7 L695.0,521.7 L696.0,521.6 L697.0,521.6 L698.0,521.5 L699.0,521.5 L700.0,521.4 L701.0,521.4 L702.0,521.3 L703.0,521.2 L704.0,521.2 L705.0,521.1 L706.0,521.0 L707.0,521.0 L708.0,520.9 L709.0,520.9 L710.0,520.8 L711.0,520.8 L712.0,520.7 L713.0,520.7 L714.0,520.7 L715.0,520.7 L716.0,520.7 L717.0,520.7 L718.0,520.8 L719.0,520.8 L720.0,520.9 L721.0,521.0 L722.0,521.3 L723.0,521.7 L724.0,522.1 L725.0,522.6 L726.0,523.2 L727.0,523.8 L728.0,524.4 L729.0,525.1 L730.0,525.7 L731.0,526.4 L732.0,527.0 L733.0,527.6 L734.0,528.2 L735.0,528.9 L736.0,529.5 L737.0,530.2 L738.0,531.0 L739.0,531.7 L740.0,532.4 L741.0,533.1 L742.0,533.9 L743.0,534.6 L744.0,535.4 L745.0,536.1 L746.0,536.8 L747.0,537.5 L748.0,538.2 L749.0,538.9 L750.0,539.6 L751.0,540.3 L752.0,541.0 L753.0,541.7 L754.0,542.4 L755.0,543.1 L756.0,543.8 L757.0,544.5 L758.0,545.1 L759.0,545.8 L760.0,546.4 L761.0,547.0 L762.0,547.7 L763.0,548.3 L764.0,548.9 L765.0,549.6 L766.0,550.2 L767.0,550.8 L768.0,551.4 L769.0,551.9 L770.0,552.5 L771.0,553.0 L772.0,553.4 L773.0,553.9 L774.0,554.3 L775.0,554.6 L776.0,555.0 L777.0,555.4 L778.0,555.7 L779.0,556.0 L780.0,556.3 L781.0,556.6 L782.0,556.8 L783.0,557.0 L784.0,557.2 L785.0,557.3 L786.0,557.5"/><path d="M520.0,537.0 L521.0,536.9 L522.0,536.8 L523.0,536.7 L524.0,536.6 L525.0,536.5 L526.0,536.4 L527.0,536.3 L528.0,536.2 L529.0,536.1 L530.0,536.0 L531.0,535.9 L532.0,535.8 L533.0,535.7 L534.0,535.6 L535.0,535.5 L536.0,535.4 L537.0,535.3 L538.0,535.3 L539.0,535.2 L540.0,535.1 L541.0,535.0 L542.0,534.9 L543.0,534.9 L544.0,534.8 L545.0,534.7 L546.0,534.6 L547.0,534.6 L548.0,534.5 L549.0,534.4 L550.0,534.4 L551.0,534.3 L552.0,534.2 L553.0,534.2 L554.0,534.1 L555.0,534.0 L556.0,534.0 L557.0,533.9 L558.0,533.8 L559.0,533.8 L560.0,533.7 L561.0,533.6 L562.0,533.6 L563.0,533.5 L564.0,533.5 L565.0,533.4 L566.0,533.3 L567.0,533.3 L568.0,533.2 L569.0,533.2 L570.0,533.1 L571.0,533.0 L572.0,533.0 L573.0,532.9 L574.0,532.8 L575.0,532.8 L576.0,532.7 L577.0,532.7 L578.0,532.6 L579.0,532.5 L580.0,532.5 L581.0,532.4 L582.0,532.4 L583.0,532.3 L584.0,532.2 L585.0,532.2 L586.0,532.1 L587.0,532.0 L588.0,532.0 L589.0,531.9 L590.0,531.9 L591.0,531.8 L592.0,531.7 L593.0,531.7 L594.0,531.6 L595.0,531.5 L596.0,531.5 L597.0,531.4 L598.0,531.3 L599.0,531.2 L600.0,531.2 L601.0,531.1 L602.0,531.0 L603.0,531.0 L604.0,530.9 L605.0,530.8 L606.0,530.7 L607.0,530.7 L608.0,530.6 L609.0,530.5 L610.0,530.4 L611.0,530.4 L612.0,530.3 L613.0,530.2 L614.0,530.1 L615.0,530.1 L616.0,530.0 L617.0,529.9 L618.0,529.8 L619.0,529.8 L620.0,529.7 L621.0,529.6 L622.0,529.5 L623.0,529.5 L624.0,529.4 L625.0,529.3 L626.0,529.2 L627.0,529.2 L628.0,529.1 L629.0,529.0 L630.0,529.0 L631.0,528.9 L632.0,528.8 L633.0,528.7 L634.0,528.7 L635.0,528.6 L636.0,528.5 L637.0,528.5 L638.0,528.4 L639.0,528.4 L640.0,528.3 L641.0,528.2 L642.0,528.2 L643.0,528.1 L644.0,528.1 L645.0,528.0 L646.0,528.0 L647.0,527.9 L648.0,527.9 L649.0,527.8 L650.0,527.8 L651.0,527.7 L652.0,527.7 L653.0,527.6 L654.0,527.6 L655.0,527.5 L656.0,527.5 L657.0,527.4 L658.0,527.4 L659.0,527.4 L660.0,527.3 L661.0,527.3 L662.0,527.3 L663.0,527.2 L664.0,527.2 L665.0,527.2 L666.0,527.1 L667.0,527.1 L668.0,527.1 L669.0,527.0 L670.0,527.0 L671.0,527.0 L672.0,526.9 L673.0,526.9 L674.0,526.9 L675.0,526.8 L676.0,526.8 L677.0,526.8 L678.0,526.8 L679.0,526.7 L680.0,526.7 L681.0,526.7 L682.0,526.6 L683.0,526.6 L684.0,526.6 L685.0,526.5 L686.0,526.5 L687.0,526.5 L688.0,526.4 L689.0,526.4 L690.0,526.4 L691.0,526.3 L692.0,526.3 L693.0,526.3 L694.0,526.2 L695.0,526.2 L696.0,526.1 L697.0,526.1 L698.0,526.1 L699.0,526.0 L700.0,525.9 L701.0,525.9 L702.0,525.8 L703.0,525.7 L704.0,525.6 L705.0,525.5 L706.0,525.4 L707.0,525.3 L708.0,525.2 L709.0,525.2 L710.0,525.1 L711.0,525.0 L712.0,524.9 L713.0,524.8 L714.0,524.8 L715.0,524.7 L716.0,524.7 L717.0,524.7 L718.0,524.7 L719.0,524.7 L720.0,524.7 L721.0,524.8 L722.0,525.0 L723.0,525.3 L724.0,525.6 L725.0,526.1 L726.0,526.6 L727.0,527.1 L728.0,527.7 L729.0,528.3 L730.0,528.9 L731.0,529.5 L732.0,530.0 L733.0,530.5 L734.0,531.1 L735.0,531.7 L736.0,532.3 L737.0,532.9 L738.0,533.6 L739.0,534.2 L740.0,534.9 L741.0,535.5 L742.0,536.2 L743.0,536.9 L744.0,537.5 L745.0,538.2 L746.0,538.8 L747.0,539.5 L748.0,540.1 L749.0,540.7 L750.0,541.4 L751.0,542.0 L752.0,542.7 L753.0,543.3 L754.0,544.0 L755.0,544.6 L756.0,545.2 L757.0,545.9 L758.0,546.5 L759.0,547.1 L760.0,547.6 L761.0,548.2 L762.0,548.8 L763.0,549.4 L764.0,549.9 L765.0,550.5 L766.0,551.1 L767.0,551.6 L768.0,552.2 L769.0,552.7 L770.0,553.2 L771.0,553.7 L772.0,554.1 L773.0,554.5 L774.0,554.9 L775.0,555.2 L776.0,555.6 L777.0,555.9 L778.0,556.2 L779.0,556.5 L780.0,556.7 L781.0,557.0 L782.0,557.2 L783.0,557.4 L784.0,557.5 L785.0,557.6 L786.0,557.7"/><path d="M216.0,557.5 L217.0,557.4 L218.0,557.2 L219.0,557.1 L220.0,557.0 L221.0,556.9 L222.0,556.7 L223.0,556.6 L224.0,556.5 L225.0,556.4 L226.0,556.2 L227.0,556.1 L228.0,556.0 L229.0,555.9 L230.0,555.8 L231.0,555.7 L232.0,555.6 L233.0,555.5 L234.0,555.4 L235.0,555.3 L236.0,555.2 L237.0,555.2 L238.0,555.1 L239.0,555.0 L240.0,554.9 L241.0,554.8 L242.0,554.7 L243.0,554.7 L244.0,554.6 L245.0,554.5 L246.0,554.4 L247.0,554.3 L248.0,554.2 L249.0,554.1 L250.0,554.0 L251.0,553.9 L252.0,553.8 L253.0,553.6 L254.0,553.5 L255.0,553.4 L256.0,553.2 L257.0,553.1 L258.0,552.9 L259.0,552.8 L260.0,552.6 L261.0,552.4 L262.0,552.2 L263.0,552.0 L264.0,551.8 L265.0,551.6 L266.0,551.4 L267.0,551.2 L268.0,551.0 L269.0,550.8 L270.0,550.6 L271.0,550.4 L272.0,550.1 L273.0,549.9 L274.0,549.7 L275.0,549.4 L276.0,549.2 L277.0,549.0 L278.0,548.7 L279.0,548.5 L280.0,548.2 L281.0,548.0 L282.0,547.7 L283.0,547.4 L284.0,547.1 L285.0,546.8 L286.0,546.5 L287.0,546.2 L288.0,545.9 L289.0,545.6 L290.0,545.2 L291.0,544.9 L292.0,544.6 L293.0,544.2 L294.0,543.9 L295.0,543.6 L296.0,543.2 L297.0,542.9 L298.0,542.6 L299.0,542.2 L300.0,541.9 L301.0,541.6 L302.0,541.2 L303.0,540.9 L304.0,540.5 L305.0,540.1 L306.0,539.8 L307.0,539.4 L308.0,539.0 L309.0,538.7 L310.0,538.3 L311.0,537.9 L312.0,537.6 L313.0,537.2 L314.0,536.9 L315.0,536.5 L316.0,536.2 L317.0,535.9 L318.0,535.5 L319.0,535.2 L320.0,534.9 L321.0,534.6 L322.0,534.3 L323.0,534.0 L324.0,533.7 L325.0,533.4 L326.0,533.2 L327.0,532.9 L328.0,532.6 L329.0,532.3 L330.0,532.0 L331.0,531.8 L332.0,531.5 L333.0,531.3 L334.0,531.0 L335.0,530.7 L336.0,530.5 L337.0,530.3 L338.0,530.0 L339.0,529.8 L340.0,529.6 L341.0,529.4 L342.0,529.2 L343.0,529.0 L344.0,528.8 L345.0,528.5 L346.0,528.3 L347.0,528.1 L348.0,527.9 L349.0,527.7 L350.0,527.5 L351.0,527.3 L352.0,527.1 L353.0,526.8 L354.0,526.6 L355.0,526.3 L356.0,526.1 L357.0,525.8 L358.0,525.4 L359.0,525.1 L360.0,524.7 L361.0,524.4 L362.0,524.0 L363.0,523.6 L364.0,523.3 L365.0,522.9 L366.0,522.6 L367.0,522.2 L368.0,521.9 L369.0,521.6 L370.0,521.3 L371.0,521.1 L372.0,520.9 L373.0,520.7 L374.0,520.6 L375.0,520.5 L376.0,520.4 L377.0,520.4 L378.0,520.3 L379.0,520.2 L380.0,520.2 L381.0,520.1 L382.0,520.1 L383.0,520.0 L384.0,520.0 L385.0,519.9 L386.0,519.9 L387.0,519.9 L388.0,519.8 L389.0,519.8 L390.0,519.8 L391.0,519.8 L392.0,519.8 L393.0,519.8 L394.0,519.8 L395.0,519.8 L396.0,519.8 L397.0,519.8 L398.0,519.9 L399.0,519.9 L400.0,519.9 L401.0,519.9 L402.0,520.0 L403.0,520.0 L404.0,520.0 L405.0,520.1 L406.0,520.1 L407.0,520.2 L408.0,520.2 L409.0,520.2 L410.0,520.3 L411.0,520.3 L412.0,520.4 L413.0,520.5 L414.0,520.7 L415.0,520.8 L416.0,521.0 L417.0,521.1 L418.0,521.3 L419.0,521.5 L420.0,521.7 L421.0,521.9 L422.0,522.2 L423.0,522.4 L424.0,522.6 L425.0,522.9 L426.0,523.1 L427.0,523.3 L428.0,523.5 L429.0,523.7 L430.0,524.0 L431.0,524.2 L432.0,524.4 L433.0,524.6 L434.0,524.8 L435.0,525.1 L436.0,525.3 L437.0,525.6 L438.0,525.8 L439.0,526.1 L440.0,526.3 L441.0,526.6 L442.0,526.8 L443.0,527.1 L444.0,527.4 L445.0,527.7 L446.0,528.0 L447.0,528.3 L448.0,528.6 L449.0,528.9 L450.0,529.2 L451.0,529.5 L452.0,529.8 L453.0,530.1 L454.0,530.4 L455.0,530.6 L456.0,530.9 L457.0,531.1 L458.0,531.3 L459.0,531.5 L460.0,531.7 L461.0,531.9 L462.0,532.1 L463.0,532.3 L464.0,532.5 L465.0,532.7 L466.0,532.9 L467.0,533.1 L468.0,533.3 L469.0,533.6 L470.0,533.8 L471.0,534.1 L472.0,534.3 L473.0,534.6 L474.0,534.8 L475.0,535.1 L476.0,535.3 L477.0,535.6 L478.0,535.8 L479.0,536.0 L480.0,536.2 L481.0,536.4 L482.0,536.5 L483.0,536.7 L484.0,536.8 L485.0,536.9 L486.0,537.1 L487.0,537.2 L488.0,537.4 L489.0,537.5 L490.0,537.6 L491.0,537.7 L492.0,537.8 L493.0,537.9 L494.0,538.0 L495.0,538.1 L496.0,538.2 L497.0,538.2 L498.0,538.3 L499.0,538.3 L500.0,538.3 L501.0,538.3 L502.0,538.3 L503.0,538.3 L504.0,538.3 L505.0,538.3 L506.0,538.3 L507.0,538.2 L508.0,538.2 L509.0,538.2 L510.0,538.2 L511.0,538.2 L512.0,538.1 L513.0,538.1 L514.0,538.1 L515.0,538.0 L516.0,538.0 L517.0,538.0 L518.0,537.9 L519.0,537.9 L520.0,537.9 L521.0,537.8 L522.0,537.8 L523.0,537.8 L524.0,537.7 L525.0,537.7 L526.0,537.7 L527.0,537.6 L528.0,537.6 L529.0,537.5 L530.0,537.5 L531.0,537.5 L532.0,537.4 L533.0,537.4 L534.0,537.3 L535.0,537.3 L536.0,537.2 L537.0,537.2 L538.0,537.1 L539.0,537.1 L540.0,537.0 L541.0,536.9 L542.0,536.9 L543.0,536.8 L544.0,536.8 L545.0,536.7 L546.0,536.6 L547.0,536.5 L548.0,536.5 L549.0,536.4 L550.0,536.3 L551.0,536.2 L552.0,536.2 L553.0,536.1 L554.0,536.0 L555.0,535.9 L556.0,535.8 L557.0,535.8 L558.0,535.7 L559.0,535.6 L560.0,535.5"/><path d="M405.0,520.6 L406.0,521.0 L407.0,521.2 L408.0,521.4 L409.0,521.5 L410.0,521.5 L411.0,521.4 L412.0,521.1 L413.0,519.9 L414.0,516.3 L415.0,513.7 L416.0,512.1 L417.0,510.8 L418.0,509.7 L419.0,508.7 L420.0,507.7 L421.0,506.7 L422.0,505.7 L423.0,504.9 L424.0,504.2 L425.0,503.7 L426.0,503.4 L427.0,503.1 L428.0,502.9 L429.0,502.7 L430.0,502.6 L431.0,502.5 L432.0,502.4 L433.0,502.4 L434.0,502.5 L435.0,502.6 L436.0,502.8 L437.0,503.0 L438.0,503.2 L439.0,503.5 L440.0,503.8 L441.0,504.2 L442.0,504.9 L443.0,505.7 L444.0,506.5 L445.0,507.4 L446.0,508.2 L447.0,509.2 L448.0,510.4 L449.0,511.6 L450.0,512.8 L451.0,514.1 L452.0,515.4 L453.0,516.7 L454.0,517.9 L455.0,519.1 L456.0,520.3 L457.0,521.6 L458.0,522.8 L459.0,524.1 L460.0,525.3 L461.0,526.4 L462.0,527.4 L463.0,528.3 L464.0,529.1 L465.0,529.9 L466.0,530.6 L467.0,531.3 L468.0,532.0 L469.0,532.6 L470.0,533.1 L471.0,533.6 L472.0,534.1 L473.0,534.4 L474.0,534.7 L475.0,535.1 L476.0,535.4 L477.0,535.7 L478.0,535.9 L479.0,536.1 L480.0,536.3 L481.0,536.4"/><path d="M562.0,532.0 L563.0,532.0 L564.0,531.9 L565.0,531.8 L566.0,531.7 L567.0,531.6 L568.0,531.4 L569.0,531.1 L570.0,530.8 L571.0,530.5 L572.0,530.1 L573.0,529.6 L574.0,529.0 L575.0,526.7 L576.0,523.9 L577.0,522.4 L578.0,521.3 L579.0,520.4 L580.0,520.0 L581.0,520.0 L582.0,520.2 L583.0,520.5 L584.0,520.8 L585.0,521.3 L586.0,522.0 L587.0,523.0 L588.0,524.1 L589.0,525.8 L590.0,527.9 L591.0,529.7 L592.0,530.8 L593.0,531.8 L594.0,532.6 L595.0,533.2 L596.0,533.5"/><path d="M677.0,557.0 L678.0,556.5 L679.0,556.1 L680.0,555.6 L681.0,555.2 L682.0,554.7 L683.0,554.3 L684.0,553.8 L685.0,553.4 L686.0,552.9 L687.0,552.5 L688.0,552.1 L689.0,551.6 L690.0,551.2 L691.0,550.7 L692.0,550.3 L693.0,549.9 L694.0,549.4 L695.0,549.0 L696.0,548.6 L697.0,548.1 L698.0,547.6 L699.0,547.0 L700.0,546.5 L701.0,545.9 L702.0,545.4 L703.0,544.8 L704.0,544.3 L705.0,543.8 L706.0,543.3 L707.0,542.8 L708.0,542.4 L709.0,542.0 L710.0,541.6 L711.0,541.3 L712.0,541.1 L713.0,541.0 L714.0,540.9 L715.0,540.9 L716.0,541.0 L717.0,541.1 L718.0,541.2 L719.0,541.4 L720.0,541.7 L721.0,541.9 L722.0,542.2 L723.0,542.6 L724.0,542.9 L725.0,543.3 L726.0,543.7 L727.0,544.1 L728.0,544.5 L729.0,544.9 L730.0,545.3 L731.0,545.7 L732.0,546.1 L733.0,546.5 L734.0,546.9 L735.0,547.3 L736.0,547.8 L737.0,548.2 L738.0,548.7 L739.0,549.2 L740.0,549.7 L741.0,550.2 L742.0,550.8 L743.0,551.3 L744.0,551.9 L745.0,552.5 L746.0,553.1 L747.0,553.7 L748.0,554.4 L749.0,555.0 L750.0,555.7 L751.0,556.3 L752.0,557.0"/><path d="M573.0,516.0 L574.0,516.5 L575.0,517.0 L576.0,517.5 L577.0,518.0 L578.0,518.6 L579.0,519.2 L580.0,519.8 L581.0,520.4 L582.0,521.0 L583.0,521.6 L584.0,522.3 L585.0,523.0 L586.0,523.7 L587.0,524.6 L588.0,525.5 L589.0,526.6 L590.0,528.2 L591.0,530.5 L592.0,532.9 L593.0,535.0 L594.0,536.3 L595.0,537.2 L596.0,537.9 L597.0,538.5 L598.0,539.1 L599.0,539.8 L600.0,540.6 L601.0,541.3 L602.0,542.1 L603.0,543.0 L604.0,544.0 L605.0,545.1 L606.0,546.6 L607.0,549.0 L608.0,553.3"/><path d="M653.0,557.5 L654.0,555.0 L655.0,552.6 L656.0,550.2 L657.0,548.0 L658.0,545.9 L659.0,543.9 L660.0,542.0 L661.0,540.2 L662.0,538.5 L663.0,536.9 L664.0,535.4 L665.0,533.9 L666.0,532.6"/><path d="M684.2,531.7 L685.2,532.0 L686.2,532.3 L687.2,532.6 L688.2,533.0 L689.2,533.3 L690.2,533.6 L691.2,533.9 L692.2,534.1 L693.2,534.4 L694.2,534.7 L695.2,535.0 L696.2,535.3 L697.2,535.6 L698.2,535.8 L699.2,536.1 L700.2,536.3 L701.2,536.6 L702.2,536.8 L703.2,537.0 L704.2,537.3 L705.2,537.5 L706.2,537.7 L707.2,538.0 L708.2,538.2 L709.2,538.5 L710.2,538.8 L711.2,539.2 L712.2,539.5 L713.2,539.9 L714.2,540.3 L715.2,540.7 L716.2,541.2 L717.2,541.6 L718.2,542.0 L719.2,542.5 L720.2,542.9 L721.2,543.3 L722.2,543.7 L723.2,544.1 L724.2,544.5 L725.2,544.9 L726.2,545.3 L727.2,545.7 L728.2,546.1 L729.2,546.5 L730.2,546.9 L731.2,547.3 L732.2,547.7 L733.2,548.1 L734.2,548.5 L735.2,548.9 L736.2,549.3 L737.2,549.7 L738.2,550.1 L739.2,550.5 L740.2,551.0 L741.2,551.4 L742.2,551.8 L743.2,552.2 L744.2,552.7 L745.2,553.1 L746.2,553.5 L747.2,554.0 L748.2,554.4 L749.2,554.9 L750.2,555.3 L751.2,555.8 L752.2,556.2 L753.2,556.7 L754.2,557.1"/><path d="M712.0,528.0 L713.0,528.2 L714.0,528.5 L715.0,528.7 L716.0,529.1 L717.0,529.4 L718.0,529.8 L719.0,530.2 L720.0,530.6 L721.0,531.0 L722.0,531.5 L723.0,532.0 L724.0,532.5 L725.0,533.0 L726.0,533.5 L727.0,534.2 L728.0,534.8 L729.0,535.5 L730.0,536.3 L731.0,537.1 L732.0,537.9 L733.0,538.8 L734.0,539.7 L735.0,540.6 L736.0,541.5 L737.0,542.4 L738.0,543.2 L739.0,544.1 L740.0,545.0 L741.0,545.9 L742.0,546.7 L743.0,547.6 L744.0,548.5 L745.0,549.4 L746.0,550.3 L747.0,551.3 L748.0,552.2 L749.0,553.1 L750.0,554.1 L751.0,555.0 L752.0,556.0"/><path d="M403.0,545.5 L404.0,545.9 L405.0,546.3 L406.0,546.7 L407.0,547.2 L408.0,547.7 L409.0,548.3 L410.0,548.9 L411.0,549.5 L412.0,550.2 L413.0,550.9 L414.0,551.6 L415.0,552.4 L416.0,553.3 L417.0,554.2 L418.0,555.1 L419.0,556.1 L420.0,557.1"/><path d="M440.6,557.7 L441.6,556.5 L442.6,555.3 L443.6,554.1 L444.6,553.0 L445.6,551.9 L446.6,550.9 L447.6,550.1 L448.6,549.4 L449.6,548.8 L450.6,548.4 L451.6,548.2 L452.6,548.1 L453.6,548.0 L454.6,547.9 L455.6,547.8 L456.6,547.7 L457.6,547.6 L458.6,547.5 L459.6,547.5 L460.6,547.4 L461.6,547.3 L462.6,547.3 L463.6,547.2 L464.6,547.2 L465.6,547.2 L466.6,547.1 L467.6,547.1 L468.6,547.0 L469.6,547.0 L470.6,547.0 L471.6,546.9 L472.6,546.9 L473.6,546.9 L474.6,546.8 L475.6,546.8 L476.6,546.8 L477.6,546.8 L478.6,546.7 L479.6,546.7 L480.6,546.7 L481.6,546.6 L482.6,546.6 L483.6,546.6 L484.6,546.5 L485.6,546.5 L486.6,546.5 L487.6,546.5 L488.6,546.4 L489.6,546.4 L490.6,546.4 L491.6,546.4 L492.6,546.3 L493.6,546.3 L494.6,546.3 L495.6,546.3 L496.6,546.3 L497.6,546.2 L498.6,546.2 L499.6,546.2 L500.6,546.2 L501.6,546.2 L502.6,546.1 L503.6,546.1 L504.6,546.1 L505.6,546.1 L506.6,546.1 L507.6,546.1 L508.6,546.1 L509.6,546.1 L510.6,546.0 L511.6,546.0 L512.6,546.0 L513.6,546.0 L514.6,546.0 L515.6,546.0 L516.6,546.0 L517.6,546.0 L518.6,546.0 L519.6,546.0 L520.6,546.0 L521.6,546.0 L522.6,546.0 L523.6,546.0 L524.6,546.0 L525.6,546.1 L526.6,546.1 L527.6,546.1 L528.6,546.1 L529.6,546.2 L530.6,546.2 L531.6,546.2 L532.6,546.3 L533.6,546.3 L534.6,546.3 L535.6,546.3 L536.6,546.4 L537.6,546.4 L538.6,546.4 L539.6,546.4 L540.6,546.5 L541.6,546.5 L542.6,546.5 L543.6,546.5 L544.6,546.5 L545.6,546.5 L546.6,546.5 L547.6,546.5 L548.6,546.5 L549.6,546.5 L550.6,546.5 L551.6,546.4 L552.6,546.4 L553.6,546.4 L554.6,546.4 L555.6,546.3 L556.6,546.3 L557.6,546.3 L558.6,546.3 L559.6,546.2 L560.6,546.2 L561.6,546.1 L562.6,545.9 L563.6,545.7 L564.6,545.5 L565.6,545.3 L566.6,545.0 L567.6,544.8 L568.6,544.6 L569.6,544.3 L570.6,544.1 L571.6,544.0 L572.6,543.9 L573.6,543.8 L574.6,543.7 L575.6,543.6 L576.6,543.5 L577.6,543.5 L578.6,543.4 L579.6,543.3 L580.6,543.2 L581.6,543.1 L582.6,543.0 L583.6,542.9 L584.6,542.7 L585.6,542.4 L586.6,542.1 L587.6,541.8 L588.6,541.4 L589.6,541.0 L590.6,540.7 L591.6,540.3 L592.6,540.0 L593.6,539.7 L594.6,539.5 L595.6,539.3 L596.6,539.1 L597.6,538.9 L598.6,538.7 L599.6,538.6 L600.6,538.4 L601.6,538.3 L602.6,538.2 L603.6,538.0 L604.6,537.9 L605.6,537.8 L606.6,537.7 L607.6,537.6 L608.6,537.5 L609.6,537.4 L610.6,537.3 L611.6,537.2 L612.6,537.1 L613.6,537.1 L614.6,537.0 L615.6,536.9 L616.6,536.8 L617.6,536.8 L618.6,536.7 L619.6,536.6 L620.6,536.6 L621.6,536.5 L622.6,536.4 L623.6,536.4 L624.6,536.3 L625.6,536.2 L626.6,536.2 L627.6,536.1 L628.6,536.0 L629.6,535.9 L630.6,535.8 L631.6,535.7 L632.6,535.7 L633.6,535.6 L634.6,535.5 L635.6,535.4 L636.6,535.3 L637.6,535.2 L638.6,535.1 L639.6,535.0 L640.6,534.9 L641.6,534.8 L642.6,534.7 L643.6,534.6 L644.6,534.5 L645.6,534.4 L646.6,534.3 L647.6,534.2 L648.6,534.1 L649.6,534.0"/><path d="M501.8,557.5 L502.8,556.3 L503.8,555.1 L504.8,554.0 L505.8,553.0 L506.8,552.1 L507.8,551.3 L508.8,550.4 L509.8,549.6 L510.8,548.8 L511.8,548.1 L512.8,547.7 L513.8,547.5 L514.8,547.5 L515.8,547.5 L516.8,547.5 L517.8,547.6 L518.8,547.6 L519.8,547.7 L520.8,547.7 L521.8,547.8 L522.8,547.9 L523.8,548.0 L524.8,548.0 L525.8,548.1 L526.8,548.2 L527.8,548.3 L528.8,548.4 L529.8,548.5 L530.8,548.6 L531.8,548.7 L532.8,548.8 L533.8,549.0 L534.8,549.2 L535.8,549.3 L536.8,549.5 L537.8,549.7 L538.8,549.9 L539.8,550.2 L540.8,550.4 L541.8,550.6 L542.8,550.9 L543.8,551.1 L544.8,551.3 L545.8,551.6 L546.8,551.8 L547.8,552.0 L548.8,552.2 L549.8,552.5 L550.8,552.7 L551.8,552.9 L552.8,553.1 L553.8,553.4 L554.8,553.6 L555.8,553.8 L556.8,554.1 L557.8,554.3 L558.8,554.5 L559.8,554.8 L560.8,555.0 L561.8,555.2 L562.8,555.4 L563.8,555.5 L564.8,555.7 L565.8,555.8 L566.8,555.9 L567.8,556.1 L568.8,556.2 L569.8,556.3 L570.8,556.4 L571.8,556.5 L572.8,556.6 L573.8,556.7 L574.8,556.8 L575.8,556.9 L576.8,556.9 L577.8,557.0"/><path d="M470.0,533.7 L471.0,533.7 L472.0,533.8 L473.0,533.8 L474.0,533.8 L475.0,533.8 L476.0,533.9 L477.0,533.9 L478.0,533.9 L479.0,533.9 L480.0,534.0 L481.0,534.0 L482.0,534.0 L483.0,534.1 L484.0,534.1 L485.0,534.1 L486.0,534.1 L487.0,534.2 L488.0,534.2 L489.0,534.2 L490.0,534.2 L491.0,534.3 L492.0,534.3 L493.0,534.3 L494.0,534.3 L495.0,534.4 L496.0,534.4 L497.0,534.4 L498.0,534.4 L499.0,534.5 L500.0,534.5 L501.0,534.5 L502.0,534.6 L503.0,534.6 L504.0,534.6 L505.0,534.7 L506.0,534.7 L507.0,534.7 L508.0,534.8 L509.0,534.8 L510.0,534.8 L511.0,534.8 L512.0,534.9 L513.0,534.9 L514.0,534.9 L515.0,534.9 L516.0,535.0 L517.0,535.0 L518.0,535.0 L519.0,535.0 L520.0,535.0 L521.0,535.0 L522.0,535.0 L523.0,535.0 L524.0,535.0 L525.0,535.0 L526.0,535.0 L527.0,535.0 L528.0,535.0 L529.0,535.0 L530.0,535.0 L531.0,535.0 L532.0,535.0 L533.0,535.0 L534.0,535.0 L535.0,535.0 L536.0,535.0 L537.0,535.0 L538.0,535.0 L539.0,535.0 L540.0,535.0 L541.0,535.0 L542.0,535.0 L543.0,535.0 L544.0,535.0 L545.0,535.0"/><path d="M280.0,554.5 L281.0,554.5 L282.0,554.5 L283.0,554.5 L284.0,554.5 L285.0,554.5 L286.0,554.4 L287.0,554.4 L288.0,554.4 L289.0,554.4 L290.0,554.3 L291.0,554.3 L292.0,554.3 L293.0,554.3 L294.0,554.2 L295.0,554.2 L296.0,554.2 L297.0,554.1 L298.0,554.1 L299.0,554.0 L300.0,554.0 L301.0,554.0 L302.0,553.9 L303.0,553.8 L304.0,553.8 L305.0,553.7 L306.0,553.6 L307.0,553.5 L308.0,553.5 L309.0,553.4 L310.0,553.3 L311.0,553.1 L312.0,553.0 L313.0,552.9 L314.0,552.8 L315.0,552.7 L316.0,552.6 L317.0,552.5 L318.0,552.3 L319.0,552.2 L320.0,552.1 L321.0,552.0 L322.0,551.9 L323.0,551.7 L324.0,551.6 L325.0,551.5 L326.0,551.4 L327.0,551.3 L328.0,551.2 L329.0,551.1 L330.0,551.0 L331.0,550.9 L332.0,550.8 L333.0,550.7 L334.0,550.6 L335.0,550.6 L336.0,550.5 L337.0,550.4 L338.0,550.3 L339.0,550.2 L340.0,550.1 L341.0,550.0 L342.0,549.9 L343.0,549.9 L344.0,549.8 L345.0,549.7 L346.0,549.6 L347.0,549.5 L348.0,549.4 L349.0,549.4 L350.0,549.3 L351.0,549.2 L352.0,549.1 L353.0,549.0 L354.0,549.0 L355.0,548.9 L356.0,548.8 L357.0,548.7 L358.0,548.7 L359.0,548.6 L360.0,548.5"/><path d="M548.0,536.3 L549.0,536.3 L550.0,536.3 L551.0,536.3 L552.0,536.4 L553.0,536.4 L554.0,536.4 L555.0,536.4 L556.0,536.5 L557.0,536.5 L558.0,536.5 L559.0,536.5 L560.0,536.6 L561.0,536.6 L562.0,536.6 L563.0,536.6 L564.0,536.7 L565.0,536.7 L566.0,536.7 L567.0,536.7 L568.0,536.8 L569.0,536.8 L570.0,536.8 L571.0,536.9 L572.0,536.9 L573.0,536.9 L574.0,536.9 L575.0,536.9 L576.0,536.9 L577.0,536.9 L578.0,536.9 L579.0,536.8 L580.0,536.8 L581.0,536.8 L582.0,536.7 L583.0,536.7 L584.0,536.7 L585.0,536.6 L586.0,536.6 L587.0,536.5 L588.0,536.5 L589.0,536.5 L590.0,536.4 L591.0,536.4 L592.0,536.3 L593.0,536.3 L594.0,536.3 L595.0,536.2 L596.0,536.2 L597.0,536.1 L598.0,536.1 L599.0,536.0 L600.0,536.0 L601.0,536.0 L602.0,535.9 L603.0,535.9 L604.0,535.8 L605.0,535.8 L606.0,535.7 L607.0,535.6 L608.0,535.6 L609.0,535.5 L610.0,535.5 L611.0,535.4 L612.0,535.4 L613.0,535.3 L614.0,535.3 L615.0,535.2 L616.0,535.2 L617.0,535.1 L618.0,535.0 L619.0,535.0 L620.0,534.9 L621.0,534.9 L622.0,534.8 L623.0,534.7 L624.0,534.7 L625.0,534.6 L626.0,534.6 L627.0,534.5 L628.0,534.5 L629.0,534.4 L630.0,534.3 L631.0,534.3 L632.0,534.2 L633.0,534.2 L634.0,534.1 L635.0,534.0 L636.0,534.0 L637.0,533.9 L638.0,533.9 L639.0,533.8 L640.0,533.8 L641.0,533.7 L642.0,533.7 L643.0,533.6 L644.0,533.6 L645.0,533.5 L646.0,533.4 L647.0,533.4 L648.0,533.3 L649.0,533.3 L650.0,533.3 L651.0,533.2 L652.0,533.2 L653.0,533.1 L654.0,533.1 L655.0,533.0 L656.0,533.0 L657.0,532.9 L658.0,532.9 L659.0,532.8 L660.0,532.8 L661.0,532.8 L662.0,532.7 L663.0,532.7 L664.0,532.6 L665.0,532.6 L666.0,532.5 L667.0,532.5 L668.0,532.5 L669.0,532.4 L670.0,532.4 L671.0,532.3 L672.0,532.3 L673.0,532.2 L674.0,532.2 L675.0,532.2 L676.0,532.1 L677.0,532.1 L678.0,532.0 L679.0,532.0 L680.0,531.9 L681.0,531.9 L682.0,531.8 L683.0,531.8 L684.0,531.7 L685.0,531.7 L686.0,531.6 L687.0,531.6 L688.0,531.5 L689.0,531.5 L690.0,531.4 L691.0,531.4 L692.0,531.3 L693.0,531.2 L694.0,531.2 L695.0,531.1 L696.0,531.1 L697.0,531.0 L698.0,530.9 L699.0,530.9 L700.0,530.8 L701.0,530.6 L702.0,530.5 L703.0,530.3 L704.0,530.2 L705.0,530.0 L706.0,529.9 L707.0,529.7 L708.0,529.5 L709.0,529.4 L710.0,529.2 L711.0,529.1 L712.0,528.9 L713.0,528.8 L714.0,528.7 L715.0,528.6 L716.0,528.5 L717.0,528.4 L718.0,528.3 L719.0,528.2 L720.0,528.2 L721.0,528.2 L722.0,528.4 L723.0,528.6 L724.0,528.9"/><path d="M548.0,535.5 L549.0,535.5 L550.0,535.4 L551.0,535.4 L552.0,535.4 L553.0,535.3 L554.0,535.3 L555.0,535.2 L556.0,535.2 L557.0,535.1 L558.0,535.1 L559.0,535.1 L560.0,535.0 L561.0,535.0 L562.0,534.9 L563.0,534.9 L564.0,534.9 L565.0,534.8 L566.0,534.8 L567.0,534.8 L568.0,534.7 L569.0,534.7 L570.0,534.7 L571.0,534.6 L572.0,534.6 L573.0,534.5 L574.0,534.5 L575.0,534.5 L576.0,534.4 L577.0,534.4 L578.0,534.4 L579.0,534.3 L580.0,534.3 L581.0,534.3 L582.0,534.2 L583.0,534.2 L584.0,534.2 L585.0,534.1 L586.0,534.1 L587.0,534.0 L588.0,534.0 L589.0,534.0 L590.0,533.9 L591.0,533.9 L592.0,533.8 L593.0,533.8 L594.0,533.8 L595.0,533.7 L596.0,533.7 L597.0,533.6 L598.0,533.6 L599.0,533.5 L600.0,533.5 L601.0,533.5 L602.0,533.4 L603.0,533.4 L604.0,533.3 L605.0,533.3 L606.0,533.2 L607.0,533.1 L608.0,533.1 L609.0,533.0 L610.0,533.0 L611.0,532.9 L612.0,532.9 L613.0,532.8 L614.0,532.8 L615.0,532.7 L616.0,532.7 L617.0,532.6 L618.0,532.5 L619.0,532.5 L620.0,532.4 L621.0,532.4 L622.0,532.3 L623.0,532.2 L624.0,532.2 L625.0,532.1 L626.0,532.1 L627.0,532.0 L628.0,532.0 L629.0,531.9 L630.0,531.8 L631.0,531.8 L632.0,531.7 L633.0,531.7 L634.0,531.6 L635.0,531.5 L636.0,531.5 L637.0,531.4 L638.0,531.4 L639.0,531.3 L640.0,531.3 L641.0,531.2 L642.0,531.2 L643.0,531.1 L644.0,531.1 L645.0,531.0 L646.0,530.9 L647.0,530.9 L648.0,530.8 L649.0,530.8 L650.0,530.8 L651.0,530.7 L652.0,530.7 L653.0,530.6 L654.0,530.6 L655.0,530.5 L656.0,530.5 L657.0,530.4 L658.0,530.4 L659.0,530.3 L660.0,530.3 L661.0,530.3 L662.0,530.2 L663.0,530.2 L664.0,530.1 L665.0,530.1 L666.0,530.0 L667.0,530.0 L668.0,530.0 L669.0,529.9 L670.0,529.9 L671.0,529.8 L672.0,529.8 L673.0,529.7 L674.0,529.7 L675.0,529.7 L676.0,529.6 L677.0,529.6 L678.0,529.5 L679.0,529.5 L680.0,529.4 L681.0,529.4 L682.0,529.3 L683.0,529.3 L684.0,529.2 L685.0,529.2 L686.0,529.1 L687.0,529.1 L688.0,529.0 L689.0,529.0 L690.0,528.9 L691.0,528.9 L692.0,528.8 L693.0,528.7 L694.0,528.7 L695.0,528.6 L696.0,528.6 L697.0,528.5 L698.0,528.4 L699.0,528.3 L700.0,528.3 L701.0,528.2 L702.0,528.1 L703.0,528.0 L704.0,527.8 L705.0,527.7 L706.0,527.6 L707.0,527.5 L708.0,527.4 L709.0,527.3 L710.0,527.1 L711.0,527.0 L712.0,526.9 L713.0,526.8 L714.0,526.8 L715.0,526.7 L716.0,526.6 L717.0,526.6 L718.0,526.5 L719.0,526.5 L720.0,526.5 L721.0,526.6 L722.0,526.8 L723.0,527.0 L724.0,527.4"/><path d="M548.0,534.8 L549.0,534.7 L550.0,534.6 L551.0,534.5 L552.0,534.3 L553.0,534.2 L554.0,534.1 L555.0,534.0 L556.0,533.9 L557.0,533.8 L558.0,533.7 L559.0,533.6 L560.0,533.5 L561.0,533.4 L562.0,533.3 L563.0,533.2 L564.0,533.1 L565.0,533.0 L566.0,532.9 L567.0,532.8 L568.0,532.7 L569.0,532.6 L570.0,532.5 L571.0,532.4 L572.0,532.3 L573.0,532.2 L574.0,532.1 L575.0,532.0 L576.0,531.9 L577.0,531.9 L578.0,531.9 L579.0,531.8 L580.0,531.8 L581.0,531.8 L582.0,531.7 L583.0,531.7 L584.0,531.7 L585.0,531.6 L586.0,531.6 L587.0,531.5 L588.0,531.5 L589.0,531.5 L590.0,531.4 L591.0,531.4 L592.0,531.3 L593.0,531.3 L594.0,531.3 L595.0,531.2 L596.0,531.2 L597.0,531.1 L598.0,531.1 L599.0,531.0 L600.0,531.0 L601.0,531.0 L602.0,530.9 L603.0,530.9 L604.0,530.8 L605.0,530.8 L606.0,530.7 L607.0,530.6 L608.0,530.6 L609.0,530.5 L610.0,530.5 L611.0,530.4 L612.0,530.4 L613.0,530.3 L614.0,530.3 L615.0,530.2 L616.0,530.2 L617.0,530.1 L618.0,530.0 L619.0,530.0 L620.0,529.9 L621.0,529.9 L622.0,529.8 L623.0,529.7 L624.0,529.7 L625.0,529.6 L626.0,529.6 L627.0,529.5 L628.0,529.5 L629.0,529.4 L630.0,529.3 L631.0,529.3 L632.0,529.2 L633.0,529.2 L634.0,529.1 L635.0,529.0 L636.0,529.0 L637.0,528.9 L638.0,528.9 L639.0,528.8 L640.0,528.8 L641.0,528.7 L642.0,528.7 L643.0,528.6 L644.0,528.6 L645.0,528.5 L646.0,528.4 L647.0,528.4 L648.0,528.3 L649.0,528.3 L650.0,528.3 L651.0,528.2 L652.0,528.2 L653.0,528.1 L654.0,528.1 L655.0,528.0 L656.0,528.0 L657.0,527.9 L658.0,527.9 L659.0,527.8 L660.0,527.8 L661.0,527.8 L662.0,527.7 L663.0,527.7 L664.0,527.6 L665.0,527.6 L666.0,527.5 L667.0,527.5 L668.0,527.5 L669.0,527.4 L670.0,527.4 L671.0,527.3 L672.0,527.3 L673.0,527.2 L674.0,527.2 L675.0,527.2 L676.0,527.1 L677.0,527.1 L678.0,527.0 L679.0,527.0 L680.0,526.9 L681.0,526.9 L682.0,526.8 L683.0,526.8 L684.0,526.7 L685.0,526.7 L686.0,526.6 L687.0,526.6 L688.0,526.5 L689.0,526.5 L690.0,526.4 L691.0,526.4 L692.0,526.3 L693.0,526.2 L694.0,526.2 L695.0,526.1 L696.0,526.1 L697.0,526.0 L698.0,525.9 L699.0,525.8 L700.0,525.8 L701.0,525.7 L702.0,525.6 L703.0,525.6 L704.0,525.5 L705.0,525.4 L706.0,525.4 L707.0,525.3 L708.0,525.2 L709.0,525.1 L710.0,525.1 L711.0,525.0 L712.0,524.9 L713.0,524.9 L714.0,524.8 L715.0,524.8 L716.0,524.8 L717.0,524.8 L718.0,524.8 L719.0,524.8 L720.0,524.8 L721.0,524.9 L722.0,525.2 L723.0,525.5 L724.0,525.9"/><path d="M548.0,534.0 L549.0,533.9 L550.0,533.7 L551.0,533.5 L552.0,533.3 L553.0,533.2 L554.0,533.0 L555.0,532.8 L556.0,532.6 L557.0,532.5 L558.0,532.3 L559.0,532.1 L560.0,532.0 L561.0,531.8 L562.0,531.6 L563.0,531.5 L564.0,531.3 L565.0,531.1 L566.0,531.0 L567.0,530.8 L568.0,530.6 L569.0,530.5 L570.0,530.3 L571.0,530.1 L572.0,530.0 L573.0,529.8 L574.0,529.7 L575.0,529.5 L576.0,529.4 L577.0,529.4 L578.0,529.4 L579.0,529.3 L580.0,529.3 L581.0,529.3 L582.0,529.2 L583.0,529.2 L584.0,529.2 L585.0,529.1 L586.0,529.1 L587.0,529.0 L588.0,529.0 L589.0,529.0 L590.0,528.9 L591.0,528.9 L592.0,528.8 L593.0,528.8 L594.0,528.8 L595.0,528.7 L596.0,528.7 L597.0,528.6 L598.0,528.6 L599.0,528.5 L600.0,528.5 L601.0,528.5 L602.0,528.4 L603.0,528.4 L604.0,528.3 L605.0,528.3 L606.0,528.2 L607.0,528.1 L608.0,528.1 L609.0,528.0 L610.0,528.0 L611.0,527.9 L612.0,527.9 L613.0,527.8 L614.0,527.8 L615.0,527.7 L616.0,527.7 L617.0,527.6 L618.0,527.5 L619.0,527.5 L620.0,527.4 L621.0,527.4 L622.0,527.3 L623.0,527.2 L624.0,527.2 L625.0,527.1 L626.0,527.1 L627.0,527.0 L628.0,527.0 L629.0,526.9 L630.0,526.8 L631.0,526.8 L632.0,526.7 L633.0,526.7 L634.0,526.6 L635.0,526.5 L636.0,526.5 L637.0,526.4 L638.0,526.4 L639.0,526.3 L640.0,526.3 L641.0,526.2 L642.0,526.2 L643.0,526.1 L644.0,526.1 L645.0,526.0 L646.0,525.9 L647.0,525.9 L648.0,525.8 L649.0,525.8 L650.0,525.8 L651.0,525.7 L652.0,525.7 L653.0,525.6 L654.0,525.6 L655.0,525.5 L656.0,525.5 L657.0,525.4 L658.0,525.4 L659.0,525.3 L660.0,525.3 L661.0,525.3 L662.0,525.2 L663.0,525.2 L664.0,525.1 L665.0,525.1 L666.0,525.0 L667.0,525.0 L668.0,525.0 L669.0,524.9 L670.0,524.9 L671.0,524.8 L672.0,524.8 L673.0,524.7 L674.0,524.7 L675.0,524.7 L676.0,524.6 L677.0,524.6 L678.0,524.5 L679.0,524.5 L680.0,524.4 L681.0,524.4 L682.0,524.3 L683.0,524.3 L684.0,524.2 L685.0,524.2 L686.0,524.1 L687.0,524.1 L688.0,524.0 L689.0,524.0 L690.0,523.9 L691.0,523.9 L692.0,523.8 L693.0,523.7 L694.0,523.7 L695.0,523.6 L696.0,523.6 L697.0,523.5 L698.0,523.4 L699.0,523.3 L700.0,523.3 L701.0,523.2 L702.0,523.2 L703.0,523.2 L704.0,523.2 L705.0,523.1 L706.0,523.1 L707.0,523.1 L708.0,523.0 L709.0,523.0 L710.0,523.0 L711.0,523.0 L712.0,522.9 L713.0,522.9 L714.0,522.9 L715.0,523.0 L716.0,523.0 L717.0,523.0 L718.0,523.0 L719.0,523.1 L720.0,523.2 L721.0,523.3 L722.0,523.6 L723.0,524.0 L724.0,524.4"/><path d="M596.0,532.0 L597.0,531.7 L598.0,531.3 L599.0,531.0 L600.0,530.7 L601.0,530.3 L602.0,530.0 L603.0,529.7 L604.0,529.3 L605.0,529.0 L606.0,528.7 L607.0,528.3 L608.0,528.0 L609.0,527.7 L610.0,527.3 L611.0,527.0 L612.0,526.6 L613.0,526.3 L614.0,526.0 L615.0,525.6 L616.0,525.3 L617.0,524.9 L618.0,524.5 L619.0,524.1 L620.0,523.9 L621.0,523.8 L622.0,523.8 L623.0,523.7 L624.0,523.7 L625.0,523.6 L626.0,523.6 L627.0,523.5 L628.0,523.5 L629.0,523.4 L630.0,523.3 L631.0,523.3 L632.0,523.2 L633.0,523.2 L634.0,523.1 L635.0,523.0 L636.0,523.0 L637.0,522.9 L638.0,522.9 L639.0,522.8 L640.0,522.8 L641.0,522.7 L642.0,522.7 L643.0,522.6 L644.0,522.6 L645.0,522.5 L646.0,522.4 L647.0,522.4 L648.0,522.3 L649.0,522.3 L650.0,522.3 L651.0,522.2 L652.0,522.2 L653.0,522.1 L654.0,522.1 L655.0,522.0 L656.0,522.0 L657.0,521.9 L658.0,521.9 L659.0,521.8 L660.0,521.8 L661.0,521.8 L662.0,521.7 L663.0,521.7 L664.0,521.6 L665.0,521.6 L666.0,521.5 L667.0,521.5 L668.0,521.5 L669.0,521.4 L670.0,521.4 L671.0,521.3 L672.0,521.3 L673.0,521.2 L674.0,521.2 L675.0,521.2 L676.0,521.1 L677.0,521.1 L678.0,521.0 L679.0,521.0 L680.0,520.9 L681.0,520.9 L682.0,520.8 L683.0,520.8 L684.0,520.7 L685.0,520.7 L686.0,520.6 L687.0,520.6 L688.0,520.5 L689.0,520.5 L690.0,520.4 L691.0,520.4 L692.0,520.3 L693.0,520.2 L694.0,520.2 L695.0,520.1 L696.0,520.1 L697.0,520.0 L698.0,519.9 L699.0,519.8 L700.0,519.8 L701.0,519.8 L702.0,520.0 L703.0,520.2 L704.0,520.4 L705.0,520.6 L706.0,520.7 L707.0,520.8 L708.0,521.0 L709.0,521.2 L710.0,521.3 L711.0,521.5 L712.0,521.6 L713.0,521.8 L714.0,522.0 L715.0,522.2 L716.0,522.4"/><path d="M596.0,531.5 L597.0,531.1 L598.0,530.7 L599.0,530.2 L600.0,529.8 L601.0,529.4 L602.0,529.0 L603.0,528.6 L604.0,528.2 L605.0,527.8 L606.0,527.3 L607.0,526.9 L608.0,526.5 L609.0,526.1 L610.0,525.7 L611.0,525.2 L612.0,524.8 L613.0,524.4 L614.0,524.0 L615.0,523.5 L616.0,523.1 L617.0,522.6 L618.0,522.1 L619.0,521.7 L620.0,521.4 L621.0,521.3 L622.0,521.3 L623.0,521.2 L624.0,521.2 L625.0,521.1 L626.0,521.1 L627.0,521.0 L628.0,521.0 L629.0,520.9 L630.0,520.8 L631.0,520.8 L632.0,520.7 L633.0,520.7 L634.0,520.6 L635.0,520.5 L636.0,520.5 L637.0,520.4 L638.0,520.4 L639.0,520.3 L640.0,520.3 L641.0,520.2 L642.0,520.2 L643.0,520.1 L644.0,520.1 L645.0,520.0 L646.0,519.9 L647.0,519.9 L648.0,519.8 L649.0,519.8 L650.0,519.8 L651.0,519.7 L652.0,519.7 L653.0,519.6 L654.0,519.6 L655.0,519.5 L656.0,519.5 L657.0,519.4 L658.0,519.4 L659.0,519.3 L660.0,519.3 L661.0,519.3 L662.0,519.2 L663.0,519.2 L664.0,519.1 L665.0,519.1 L666.0,519.0 L667.0,519.0 L668.0,519.0 L669.0,518.9 L670.0,518.9 L671.0,518.8 L672.0,518.8 L673.0,518.7 L674.0,518.7 L675.0,518.7 L676.0,518.6 L677.0,518.6 L678.0,518.5 L679.0,518.5 L680.0,518.4 L681.0,518.4 L682.0,518.3 L683.0,518.3 L684.0,518.2 L685.0,518.2 L686.0,518.1 L687.0,518.1 L688.0,518.0 L689.0,518.0 L690.0,517.9 L691.0,517.9 L692.0,517.8 L693.0,517.7 L694.0,517.7 L695.0,517.6 L696.0,517.6 L697.0,517.5 L698.0,517.4 L699.0,517.3 L700.0,517.3 L701.0,517.4 L702.0,517.6 L703.0,517.9 L704.0,518.2 L705.0,518.4 L706.0,518.7 L707.0,518.9 L708.0,519.1 L709.0,519.4 L710.0,519.6 L711.0,519.8 L712.0,520.1 L713.0,520.3 L714.0,520.6 L715.0,520.8 L716.0,521.1"/></g>
<path d="M214.0,554.7 L215.0,554.6 L216.0,554.4 L217.0,554.3 L218.0,554.1 L219.0,554.0 L220.0,553.8 L221.0,553.7 L222.0,553.5 L223.0,553.4 L224.0,553.2 L225.0,553.1 L226.0,552.9 L227.0,552.7 L228.0,552.6 L229.0,552.4 L230.0,552.2 L231.0,552.1 L232.0,551.9 L233.0,551.7 L234.0,551.5 L235.0,551.3 L236.0,551.1 L237.0,550.9 L238.0,550.7 L239.0,550.5 L240.0,550.2 L241.0,550.0 L242.0,549.8 L243.0,549.5 L244.0,549.3 L245.0,549.0 L246.0,548.8 L247.0,548.5 L248.0,548.3 L249.0,548.0 L250.0,547.7 L251.0,547.4 L252.0,547.1 L253.0,546.8 L254.0,546.5 L255.0,546.2 L256.0,545.9 L257.0,545.6 L258.0,545.2 L259.0,544.9 L260.0,544.6 L261.0,544.2 L262.0,543.8 L263.0,543.5 L264.0,543.1 L265.0,542.7 L266.0,542.3 L267.0,541.9 L268.0,541.5 L269.0,541.1 L270.0,540.7 L271.0,540.3 L272.0,539.8 L273.0,539.4 L274.0,538.9 L275.0,538.5 L276.0,538.0 L277.0,537.5 L278.0,537.0 L279.0,536.5 L280.0,536.0 L281.0,535.5 L282.0,535.0 L283.0,534.4 L284.0,533.9 L285.0,533.3 L286.0,532.8 L287.0,532.2 L288.0,531.6 L289.0,531.0 L290.0,530.4 L291.0,529.8 L292.0,529.1 L293.0,528.5 L294.0,527.8 L295.0,527.2 L296.0,526.5 L297.0,525.8 L298.0,525.1 L299.0,524.4 L300.0,523.7 L301.0,523.0 L302.0,522.2 L303.0,521.4 L304.0,520.7 L305.0,519.9 L306.0,519.1 L307.0,518.3 L308.0,517.4 L309.0,516.6 L310.0,515.7 L311.0,514.9 L312.0,514.0 L313.0,513.1 L314.0,512.2 L315.0,511.3 L316.0,510.3 L317.0,509.4 L318.0,508.4 L319.0,507.5 L320.0,506.5 L321.0,505.5 L322.0,504.5 L323.0,503.5 L324.0,502.5 L325.0,501.4 L326.0,500.4 L327.0,499.3 L328.0,498.3 L329.0,497.2 L330.0,496.1 L331.0,495.0 L332.0,493.9 L333.0,492.8 L334.0,491.7 L335.0,490.6 L336.0,489.5 L337.0,488.4 L338.0,487.2 L339.0,486.1 L340.0,484.9 L341.0,483.8 L342.0,482.6 L343.0,481.4 L344.0,480.3 L345.0,479.1 L346.0,477.9 L347.0,476.7 L348.0,475.6 L349.0,474.4 L350.0,473.2 L351.0,472.0 L352.0,470.8 L353.0,469.6 L354.0,468.4 L355.0,467.2 L356.0,466.0 L357.0,464.8 L358.0,463.6 L359.0,462.4 L360.0,461.2 L361.0,460.0 L362.0,458.8 L363.0,457.7 L364.0,456.5 L365.0,455.3 L366.0,454.1 L367.0,452.9 L368.0,451.7 L369.0,450.5 L370.0,449.3 L371.0,448.1 L372.0,446.9 L373.0,445.7 L374.0,444.6 L375.0,443.4 L376.0,442.2 L377.0,441.0 L378.0,439.9 L379.0,438.7 L380.0,437.5 L381.0,436.4 L382.0,435.2 L383.0,434.1 L384.0,433.0 L385.0,431.8 L386.0,430.7 L387.0,429.6 L388.0,428.5 L389.0,427.4 L390.0,426.3 L391.0,425.2 L392.0,424.1 L393.0,423.0 L394.0,421.9 L395.0,420.9 L396.0,419.8 L397.0,418.8 L398.0,417.8 L399.0,416.8 L400.0,415.8 L401.0,414.8 L402.0,413.8 L403.0,412.8 L404.0,411.9 L405.0,410.9 L406.0,410.0 L407.0,409.1 L408.0,408.2 L409.0,407.3 L410.0,406.5 L411.0,405.6 L412.0,404.8 L413.0,404.0 L414.0,403.2 L415.0,402.4 L416.0,401.7 L417.0,400.9 L418.0,400.2 L419.0,399.5 L420.0,398.8 L421.0,398.2 L422.0,397.5 L423.0,396.9 L424.0,396.3 L425.0,395.7 L426.0,395.2 L427.0,394.6 L428.0,394.1 L429.0,393.6 L430.0,393.1 L431.0,392.7 L432.0,392.3 L433.0,391.8 L434.0,391.5 L435.0,391.1 L436.0,390.7 L437.0,390.4 L438.0,390.1 L439.0,389.8 L440.0,389.6 L441.0,389.3 L442.0,389.1 L443.0,388.9 L444.0,388.8 L445.0,388.6 L446.0,388.5 L447.0,388.4 L448.0,388.3 L449.0,388.3 L450.0,388.3 L451.0,388.3 L452.0,388.3 L453.0,388.3 L454.0,388.4 L455.0,388.5 L456.0,388.6 L457.0,388.7 L458.0,388.9 L459.0,389.1 L460.0,389.3 L461.0,389.5 L462.0,389.8 L463.0,390.0 L464.0,390.3 L465.0,390.6 L466.0,391.0 L467.0,391.3 L468.0,391.7 L469.0,392.1 L470.0,392.5 L471.0,393.0 L472.0,393.4 L473.0,393.9 L474.0,394.4 L475.0,394.9 L476.0,395.5 L477.0,396.0 L478.0,396.6 L479.0,397.2 L480.0,397.8 L481.0,398.4 L482.0,399.1 L483.0,399.7 L484.0,400.4 L485.0,401.1 L486.0,401.8 L487.0,402.6 L488.0,403.3 L489.0,404.1 L490.0,404.8 L491.0,405.6 L492.0,406.4 L493.0,407.3 L494.0,408.1 L495.0,408.9 L496.0,409.8 L497.0,410.7 L498.0,411.5 L499.0,412.4 L500.0,413.3 L501.0,414.2 L502.0,415.2 L503.0,416.1 L504.0,417.0 L505.0,418.0 L506.0,418.9 L507.0,419.9 L508.0,420.9 L509.0,421.9 L510.0,422.8 L511.0,423.8 L512.0,424.8 L513.0,425.8 L514.0,426.8 L515.0,427.9 L516.0,428.9 L517.0,429.9 L518.0,430.9 L519.0,432.0 L520.0,433.0 L521.0,434.0 L522.0,435.1 L523.0,436.1 L524.0,437.2 L525.0,438.2 L526.0,439.3 L527.0,440.3 L528.0,441.4 L529.0,442.5 L530.0,443.5 L531.0,444.6 L532.0,445.7 L533.0,446.7 L534.0,447.8 L535.0,448.8 L536.0,449.9 L537.0,451.0 L538.0,452.0 L539.0,453.1 L540.0,454.2 L541.0,455.2 L542.0,456.3 L543.0,457.3 L544.0,458.4 L545.0,459.4 L546.0,460.5 L547.0,461.5 L548.0,462.6 L549.0,463.6 L550.0,464.6 L551.0,465.7 L552.0,466.7 L553.0,467.7 L554.0,468.7 L555.0,469.7 L556.0,470.7 L557.0,471.7 L558.0,472.7 L559.0,473.7 L560.0,474.6 L561.0,475.6 L562.0,476.6 L563.0,477.5 L564.0,478.5 L565.0,479.4 L566.0,480.3 L567.0,481.2 L568.0,482.1 L569.0,483.0 L570.0,483.9 L571.0,484.8 L572.0,485.7 L573.0,486.5 L574.0,487.4 L575.0,488.2 L576.0,489.1 L577.0,489.9 L578.0,490.7 L579.0,491.5 L580.0,492.3 L581.0,493.1 L582.0,493.9 L583.0,494.6 L584.0,495.4 L585.0,496.1 L586.0,496.8 L587.0,497.6 L588.0,498.3 L589.0,499.0 L590.0,499.7 L591.0,500.3 L592.0,501.0 L593.0,501.7 L594.0,502.3 L595.0,502.9 L596.0,503.6 L597.0,504.2 L598.0,504.8 L599.0,505.4 L600.0,506.0 L601.0,506.5 L602.0,507.1 L603.0,507.6 L604.0,508.2 L605.0,508.7 L606.0,509.2 L607.0,509.7 L608.0,510.2 L609.0,510.7 L610.0,511.2 L611.0,511.6 L612.0,512.1 L613.0,512.5 L614.0,513.0 L615.0,513.4 L616.0,513.8 L617.0,514.2 L618.0,514.6 L619.0,515.0 L620.0,515.4 L621.0,515.8 L622.0,516.1 L623.0,516.5 L624.0,516.8 L625.0,517.2 L626.0,517.5 L627.0,517.8 L628.0,518.1 L629.0,518.4 L630.0,518.7 L631.0,519.0 L632.0,519.3 L633.0,519.6 L634.0,519.9 L635.0,520.1 L636.0,520.4 L637.0,520.6 L638.0,520.9 L639.0,521.1 L640.0,521.3 L641.0,521.6 L642.0,521.8 L643.0,522.0 L644.0,522.2 L645.0,522.4 L646.0,522.6 L647.0,522.8 L648.0,523.0 L649.0,523.2 L650.0,523.3 L651.0,523.5 L652.0,523.7 L653.0,523.8 L654.0,524.0 L655.0,524.2 L656.0,524.3 L657.0,524.4 L658.0,524.6 L659.0,524.7 L660.0,524.9 L661.0,525.0 L662.0,525.1 L663.0,525.2 L664.0,525.3 L665.0,525.4 L666.0,525.5 L667.0,525.6 L668.0,525.7 L669.0,525.8 L670.0,525.9 L671.0,526.0 L672.0,526.1 L673.0,526.2 L674.0,526.2 L675.0,526.3 L676.0,526.4 L677.0,526.4 L678.0,526.5 L679.0,526.6 L680.0,526.6 L681.0,526.7 L682.0,526.7 L683.0,526.7 L684.0,526.8 L685.0,526.8 L686.0,526.8 L687.0,526.9 L688.0,526.9 L689.0,526.9 L690.0,526.9 L691.0,526.9 L692.0,527.0 L693.0,527.0 L694.0,527.0 L695.0,527.0 L696.0,527.0 L697.0,527.0 L698.0,526.9 L699.0,526.9 L700.0,526.9 L701.0,526.8 L702.0,526.8 L703.0,526.7 L704.0,526.7 L705.0,526.6 L706.0,526.5 L707.0,526.4 L708.0,526.4 L709.0,526.3 L710.0,526.2 L711.0,526.1 L712.0,526.1 L713.0,526.0 L714.0,526.0 L715.0,525.9 L716.0,525.9 L717.0,525.9 L718.0,525.8 L719.0,525.8 L720.0,525.9 L721.0,526.0 L722.0,526.1 L723.0,526.4 L724.0,526.8 L725.0,527.3 L726.0,527.8 L727.0,528.3 L728.0,528.9 L729.0,529.5 L730.0,530.0 L731.0,530.6 L732.0,531.1 L733.0,531.6 L734.0,532.2 L735.0,532.8 L736.0,533.4 L737.0,534.0 L738.0,534.6 L739.0,535.3 L740.0,535.9 L741.0,536.6 L742.0,537.2 L743.0,537.9 L744.0,538.5 L745.0,539.2 L746.0,539.8 L747.0,540.4 L748.0,541.0 L749.0,541.7 L750.0,542.3 L751.0,542.9 L752.0,543.6 L753.0,544.2 L754.0,544.8 L755.0,545.4 L756.0,546.1 L757.0,546.7 L758.0,547.2 L759.0,547.8 L760.0,548.4 L761.0,548.9 L762.0,549.5 L763.0,550.1 L764.0,550.6 L765.0,551.2 L766.0,551.8 L767.0,552.3 L768.0,552.8 L769.0,553.3 L770.0,553.8 L771.0,554.3 L772.0,554.7 L773.0,555.1 L774.0,555.4 L775.0,555.8 L776.0,556.1 L777.0,556.4 L778.0,556.7 L779.0,557.0 L780.0,557.2 L781.0,557.5 L782.0,557.7 L783.0,557.8 L784.0,558.0 L785.0,558.1 L786.0,558.2" fill="none" stroke="#800080" stroke-width="4"/>
<path d="M214.0,557.5 L215.0,557.5 L216.0,557.4 L217.0,557.4 L218.0,557.3 L219.0,557.3 L220.0,557.3 L221.0,557.2 L222.0,557.2 L223.0,557.2 L224.0,557.2 L225.0,557.1 L226.0,557.1 L227.0,557.1 L228.0,557.0 L229.0,557.0 L230.0,557.0 L231.0,557.0 L232.0,556.9 L233.0,556.9 L234.0,556.9 L235.0,556.9 L236.0,556.8 L237.0,556.8 L238.0,556.8 L239.0,556.8 L240.0,556.7 L241.0,556.7 L242.0,556.7 L243.0,556.7 L244.0,556.6 L245.0,556.6 L246.0,556.6 L247.0,556.6 L248.0,556.5 L249.0,556.5 L250.0,556.5 L251.0,556.4 L252.0,556.4 L253.0,556.4 L254.0,556.3 L255.0,556.3 L256.0,556.3 L257.0,556.3 L258.0,556.2 L259.0,556.2 L260.0,556.2 L261.0,556.1 L262.0,556.1 L263.0,556.1 L264.0,556.1 L265.0,556.0 L266.0,556.0 L267.0,556.0 L268.0,555.9 L269.0,555.9 L270.0,555.9 L271.0,555.9 L272.0,555.8 L273.0,555.8 L274.0,555.8 L275.0,555.7 L276.0,555.7 L277.0,555.7 L278.0,555.6 L279.0,555.6 L280.0,555.6 L281.0,555.5 L282.0,555.5 L283.0,555.5 L284.0,555.4 L285.0,555.4 L286.0,555.3 L287.0,555.3 L288.0,555.2 L289.0,555.2 L290.0,555.2 L291.0,555.1 L292.0,555.1 L293.0,555.0 L294.0,555.0 L295.0,554.9 L296.0,554.9 L297.0,554.8 L298.0,554.7 L299.0,554.7 L300.0,554.6 L301.0,554.6 L302.0,554.5 L303.0,554.4 L304.0,554.3 L305.0,554.3 L306.0,554.2 L307.0,554.1 L308.0,554.0 L309.0,553.9 L310.0,553.8 L311.0,553.7 L312.0,553.6 L313.0,553.4 L314.0,553.3 L315.0,553.2 L316.0,553.1 L317.0,552.9 L318.0,552.8 L319.0,552.7 L320.0,552.5 L321.0,552.4 L322.0,552.3 L323.0,552.1 L324.0,552.0 L325.0,551.8 L326.0,551.7 L327.0,551.5 L328.0,551.3 L329.0,551.2 L330.0,551.0 L331.0,550.9 L332.0,550.7 L333.0,550.5 L334.0,550.4 L335.0,550.2 L336.0,550.0 L337.0,549.8 L338.0,549.7 L339.0,549.5 L340.0,549.3 L341.0,549.1 L342.0,549.0 L343.0,548.8 L344.0,548.6 L345.0,548.4 L346.0,548.2 L347.0,548.1 L348.0,547.9 L349.0,547.7 L350.0,547.5 L351.0,547.3 L352.0,547.1 L353.0,546.9 L354.0,546.8 L355.0,546.6 L356.0,546.4 L357.0,546.2 L358.0,546.0 L359.0,545.8 L360.0,545.6 L361.0,545.4 L362.0,545.2 L363.0,545.0 L364.0,544.8 L365.0,544.6 L366.0,544.3 L367.0,544.1 L368.0,543.9 L369.0,543.7 L370.0,543.4 L371.0,543.2 L372.0,542.9 L373.0,542.7 L374.0,542.4 L375.0,542.1 L376.0,541.9 L377.0,541.6 L378.0,541.3 L379.0,541.0 L380.0,540.7 L381.0,540.4 L382.0,540.1 L383.0,539.8 L384.0,539.4 L385.0,539.1 L386.0,538.8 L387.0,538.4 L388.0,538.0 L389.0,537.7 L390.0,537.3 L391.0,536.9 L392.0,536.5 L393.0,536.1 L394.0,535.6 L395.0,535.2 L396.0,534.8 L397.0,534.3 L398.0,533.9 L399.0,533.4 L400.0,532.9 L401.0,532.4 L402.0,531.9 L403.0,531.4 L404.0,530.9 L405.0,530.4 L406.0,529.8 L407.0,529.3 L408.0,528.7 L409.0,528.1 L410.0,527.5 L411.0,526.9 L412.0,526.3 L413.0,525.7 L414.0,525.1 L415.0,524.5 L416.0,523.8 L417.0,523.2 L418.0,522.5 L419.0,521.8 L420.0,521.1 L421.0,520.4 L422.0,519.7 L423.0,519.0 L424.0,518.2 L425.0,517.5 L426.0,516.7 L427.0,515.9 L428.0,515.1 L429.0,514.3 L430.0,513.5 L431.0,512.7 L432.0,511.8 L433.0,511.0 L434.0,510.1 L435.0,509.2 L436.0,508.4 L437.0,507.4 L438.0,506.5 L439.0,505.6 L440.0,504.7 L441.0,503.7 L442.0,502.7 L443.0,501.7 L444.0,500.7 L445.0,499.7 L446.0,498.7 L447.0,497.7 L448.0,496.6 L449.0,495.6 L450.0,494.5 L451.0,493.4 L452.0,492.3 L453.0,491.2 L454.0,490.1 L455.0,489.0 L456.0,487.8 L457.0,486.7 L458.0,485.5 L459.0,484.3 L460.0,483.1 L461.0,481.9 L462.0,480.7 L463.0,479.4 L464.0,478.2 L465.0,476.9 L466.0,475.7 L467.0,474.4 L468.0,473.1 L469.0,471.8 L470.0,470.5 L471.0,469.2 L472.0,467.9 L473.0,466.5 L474.0,465.2 L475.0,463.8 L476.0,462.4 L477.0,461.1 L478.0,459.7 L479.0,458.3 L480.0,456.9 L481.0,455.5 L482.0,454.0 L483.0,452.6 L484.0,451.2 L485.0,449.7 L486.0,448.3 L487.0,446.8 L488.0,445.4 L489.0,443.9 L490.0,442.4 L491.0,440.9 L492.0,439.5 L493.0,438.0 L494.0,436.5 L495.0,435.0 L496.0,433.5 L497.0,432.0 L498.0,430.5 L499.0,429.0 L500.0,427.5 L501.0,426.0 L502.0,424.4 L503.0,422.9 L504.0,421.4 L505.0,419.9 L506.0,418.4 L507.0,416.9 L508.0,415.4 L509.0,413.9 L510.0,412.4 L511.0,410.9 L512.0,409.4 L513.0,407.9 L514.0,406.4 L515.0,404.9 L516.0,403.4 L517.0,402.0 L518.0,400.5 L519.0,399.0 L520.0,397.6 L521.0,396.2 L522.0,394.7 L523.0,393.3 L524.0,391.9 L525.0,390.5 L526.0,389.1 L527.0,387.7 L528.0,386.4 L529.0,385.0 L530.0,383.7 L531.0,382.4 L532.0,381.1 L533.0,379.8 L534.0,378.5 L535.0,377.3 L536.0,376.1 L537.0,374.8 L538.0,373.7 L539.0,372.5 L540.0,371.3 L541.0,370.2 L542.0,369.1 L543.0,368.0 L544.0,366.9 L545.0,365.9 L546.0,364.8 L547.0,363.8 L548.0,362.9 L549.0,361.9 L550.0,361.0 L551.0,360.1 L552.0,359.2 L553.0,358.3 L554.0,357.5 L555.0,356.7 L556.0,355.9 L557.0,355.1 L558.0,354.4 L559.0,353.7 L560.0,353.0 L561.0,352.3 L562.0,351.7 L563.0,351.1 L564.0,350.5 L565.0,350.0 L566.0,349.5 L567.0,349.0 L568.0,348.5 L569.0,348.1 L570.0,347.7 L571.0,347.3 L572.0,347.0 L573.0,346.7 L574.0,346.4 L575.0,346.1 L576.0,345.9 L577.0,345.7 L578.0,345.5 L579.0,345.4 L580.0,345.3 L581.0,345.2 L582.0,345.1 L583.0,345.1 L584.0,345.1 L585.0,345.1 L586.0,345.2 L587.0,345.3 L588.0,345.4 L589.0,345.6 L590.0,345.7 L591.0,346.0 L592.0,346.2 L593.0,346.5 L594.0,346.7 L595.0,347.1 L596.0,347.4 L597.0,347.8 L598.0,348.2 L599.0,348.6 L600.0,349.1 L601.0,349.6 L602.0,350.1 L603.0,350.6 L604.0,351.2 L605.0,351.7 L606.0,352.4 L607.0,353.0 L608.0,353.7 L609.0,354.3 L610.0,355.0 L611.0,355.8 L612.0,356.5 L613.0,357.3 L614.0,358.1 L615.0,358.9 L616.0,359.8 L617.0,360.7 L618.0,361.6 L619.0,362.5 L620.0,363.4 L621.0,364.3 L622.0,365.3 L623.0,366.3 L624.0,367.3 L625.0,368.4 L626.0,369.4 L627.0,370.5 L628.0,371.6 L629.0,372.7 L630.0,373.8 L631.0,374.9 L632.0,376.0 L633.0,377.2 L634.0,378.4 L635.0,379.6 L636.0,380.8 L637.0,382.0 L638.0,383.2 L639.0,384.5 L640.0,385.7 L641.0,387.0 L642.0,388.3 L643.0,389.6 L644.0,390.9 L645.0,392.2 L646.0,393.5 L647.0,394.8 L648.0,396.2 L649.0,397.5 L650.0,398.8 L651.0,400.2 L652.0,401.6 L653.0,402.9 L654.0,404.3 L655.0,405.7 L656.0,407.1 L657.0,408.4 L658.0,409.8 L659.0,411.2 L660.0,412.6 L661.0,414.0 L662.0,415.4 L663.0,416.8 L664.0,418.2 L665.0,419.5 L666.0,420.9 L667.0,422.3 L668.0,423.7 L669.0,425.1 L670.0,426.5 L671.0,427.8 L672.0,429.2 L673.0,430.6 L674.0,431.9 L675.0,433.3 L676.0,434.7 L677.0,436.0 L678.0,437.3 L679.0,438.7 L680.0,440.0 L681.0,441.3 L682.0,442.6 L683.0,443.9 L684.0,445.2 L685.0,446.5 L686.0,447.8 L687.0,449.0 L688.0,450.3 L689.0,451.5 L690.0,452.8 L691.0,454.0 L692.0,455.2 L693.0,456.4 L694.0,457.6 L695.0,458.8 L696.0,459.9 L697.0,461.1 L698.0,462.2 L699.0,463.3 L700.0,464.4 L701.0,465.5 L702.0,466.6 L703.0,467.6 L704.0,468.6 L705.0,469.6 L706.0,470.6 L707.0,471.6 L708.0,472.6 L709.0,473.5 L710.0,474.5 L711.0,475.4 L712.0,476.3 L713.0,477.3 L714.0,478.2 L715.0,479.1 L716.0,480.0 L717.0,480.9 L718.0,481.9 L719.0,482.8 L720.0,483.7 L721.0,484.7 L722.0,485.7 L723.0,486.9 L724.0,488.1 L725.0,489.4 L726.0,490.8 L727.0,492.1 L728.0,493.5 L729.0,494.9 L730.0,496.2 L731.0,497.5 L732.0,498.8 L733.0,500.1 L734.0,501.4 L735.0,502.7 L736.0,504.0 L737.0,505.3 L738.0,506.6 L739.0,507.9 L740.0,509.2 L741.0,510.5 L742.0,511.8 L743.0,513.1 L744.0,514.4 L745.0,515.6 L746.0,517.4 L747.0,519.1 L748.0,520.8 L749.0,522.5 L750.0,524.1 L751.0,525.7 L752.0,527.2 L753.0,528.8 L754.0,530.2 L755.0,531.7 L756.0,533.1 L757.0,534.5 L758.0,535.8 L759.0,537.1 L760.0,538.3 L761.0,539.5 L762.0,540.7 L763.0,541.9 L764.0,543.0 L765.0,544.1 L766.0,545.2 L767.0,546.2 L768.0,547.2 L769.0,548.2 L770.0,549.1 L771.0,550.0 L772.0,550.8 L773.0,551.3 L774.0,551.8 L775.0,552.2 L776.0,552.6 L777.0,553.1 L778.0,553.4 L779.0,553.8 L780.0,554.2 L781.0,554.5 L782.0,554.8 L783.0,555.0 L784.0,555.3 L785.0,555.4 L786.0,555.6" fill="none" stroke="#087008" stroke-width="4"/>
<path d="M214.0,557.5 L215.0,557.5 L216.0,557.4 L217.0,557.4 L218.0,557.4 L219.0,557.3 L220.0,557.3 L221.0,557.3 L222.0,557.2 L223.0,557.2 L224.0,557.2 L225.0,557.1 L226.0,557.1 L227.0,557.1 L228.0,557.1 L229.0,557.0 L230.0,557.0 L231.0,557.0 L232.0,557.0 L233.0,556.9 L234.0,556.9 L235.0,556.9 L236.0,556.9 L237.0,556.8 L238.0,556.8 L239.0,556.8 L240.0,556.8 L241.0,556.7 L242.0,556.7 L243.0,556.7 L244.0,556.7 L245.0,556.6 L246.0,556.6 L247.0,556.6 L248.0,556.6 L249.0,556.5 L250.0,556.5 L251.0,556.5 L252.0,556.4 L253.0,556.4 L254.0,556.4 L255.0,556.4 L256.0,556.3 L257.0,556.3 L258.0,556.3 L259.0,556.3 L260.0,556.2 L261.0,556.2 L262.0,556.2 L263.0,556.2 L264.0,556.1 L265.0,556.1 L266.0,556.1 L267.0,556.1 L268.0,556.0 L269.0,556.0 L270.0,556.0 L271.0,556.0 L272.0,555.9 L273.0,555.9 L274.0,555.9 L275.0,555.9 L276.0,555.8 L277.0,555.8 L278.0,555.8 L279.0,555.7 L280.0,555.7 L281.0,555.7 L282.0,555.7 L283.0,555.6 L284.0,555.6 L285.0,555.6 L286.0,555.5 L287.0,555.5 L288.0,555.5 L289.0,555.4 L290.0,555.4 L291.0,555.4 L292.0,555.3 L293.0,555.3 L294.0,555.3 L295.0,555.2 L296.0,555.2 L297.0,555.1 L298.0,555.1 L299.0,555.0 L300.0,555.0 L301.0,555.0 L302.0,554.9 L303.0,554.8 L304.0,554.8 L305.0,554.7 L306.0,554.7 L307.0,554.6 L308.0,554.5 L309.0,554.4 L310.0,554.4 L311.0,554.3 L312.0,554.2 L313.0,554.1 L314.0,554.0 L315.0,553.9 L316.0,553.8 L317.0,553.7 L318.0,553.6 L319.0,553.5 L320.0,553.4 L321.0,553.3 L322.0,553.2 L323.0,553.1 L324.0,553.0 L325.0,552.9 L326.0,552.8 L327.0,552.7 L328.0,552.6 L329.0,552.5 L330.0,552.3 L331.0,552.2 L332.0,552.1 L333.0,552.0 L334.0,551.9 L335.0,551.8 L336.0,551.7 L337.0,551.6 L338.0,551.5 L339.0,551.4 L340.0,551.3 L341.0,551.2 L342.0,551.1 L343.0,551.0 L344.0,550.9 L345.0,550.8 L346.0,550.7 L347.0,550.6 L348.0,550.5 L349.0,550.4 L350.0,550.3 L351.0,550.2 L352.0,550.1 L353.0,550.1 L354.0,550.0 L355.0,549.9 L356.0,549.9 L357.0,549.8 L358.0,549.7 L359.0,549.7 L360.0,549.6 L361.0,549.5 L362.0,549.5 L363.0,549.4 L364.0,549.4 L365.0,549.3 L366.0,549.3 L367.0,549.2 L368.0,549.2 L369.0,549.1 L370.0,549.0 L371.0,549.0 L372.0,548.9 L373.0,548.9 L374.0,548.8 L375.0,548.8 L376.0,548.7 L377.0,548.7 L378.0,548.6 L379.0,548.6 L380.0,548.5 L381.0,548.4 L382.0,548.4 L383.0,548.3 L384.0,548.3 L385.0,548.2 L386.0,548.1 L387.0,548.1 L388.0,548.0 L389.0,547.9 L390.0,547.9 L391.0,547.8 L392.0,547.7 L393.0,547.6 L394.0,547.6 L395.0,547.5 L396.0,547.4 L397.0,547.3 L398.0,547.2 L399.0,547.2 L400.0,547.1 L401.0,547.0 L402.0,546.9 L403.0,546.8 L404.0,546.8 L405.0,546.7 L406.0,546.6 L407.0,546.5 L408.0,546.4 L409.0,546.3 L410.0,546.2 L411.0,546.2 L412.0,546.1 L413.0,546.0 L414.0,545.9 L415.0,545.8 L416.0,545.7 L417.0,545.6 L418.0,545.6 L419.0,545.5 L420.0,545.4 L421.0,545.3 L422.0,545.2 L423.0,545.1 L424.0,545.1 L425.0,545.0 L426.0,544.9 L427.0,544.8 L428.0,544.7 L429.0,544.6 L430.0,544.5 L431.0,544.5 L432.0,544.4 L433.0,544.3 L434.0,544.2 L435.0,544.1 L436.0,544.0 L437.0,544.0 L438.0,543.9 L439.0,543.8 L440.0,543.7 L441.0,543.6 L442.0,543.5 L443.0,543.4 L444.0,543.4 L445.0,543.3 L446.0,543.2 L447.0,543.1 L448.0,543.0 L449.0,543.0 L450.0,542.9 L451.0,542.8 L452.0,542.7 L453.0,542.6 L454.0,542.6 L455.0,542.5 L456.0,542.4 L457.0,542.3 L458.0,542.3 L459.0,542.2 L460.0,542.1 L461.0,542.0 L462.0,542.0 L463.0,541.9 L464.0,541.8 L465.0,541.7 L466.0,541.7 L467.0,541.6 L468.0,541.5 L469.0,541.4 L470.0,541.4 L471.0,541.3 L472.0,541.2 L473.0,541.1 L474.0,541.1 L475.0,541.0 L476.0,540.9 L477.0,540.8 L478.0,540.8 L479.0,540.7 L480.0,540.6 L481.0,540.6 L482.0,540.5 L483.0,540.4 L484.0,540.3 L485.0,540.3 L486.0,540.2 L487.0,540.1 L488.0,540.0 L489.0,540.0 L490.0,539.9 L491.0,539.8 L492.0,539.7 L493.0,539.7 L494.0,539.6 L495.0,539.5 L496.0,539.4 L497.0,539.4 L498.0,539.3 L499.0,539.2 L500.0,539.1 L501.0,539.1 L502.0,539.0 L503.0,538.9 L504.0,538.8 L505.0,538.7 L506.0,538.6 L507.0,538.6 L508.0,538.5 L509.0,538.4 L510.0,538.3 L511.0,538.2 L512.0,538.1 L513.0,538.0 L514.0,537.9 L515.0,537.8 L516.0,537.7 L517.0,537.6 L518.0,537.5 L519.0,537.4 L520.0,537.3 L521.0,537.2 L522.0,537.1 L523.0,537.0 L524.0,536.9 L525.0,536.8 L526.0,536.7 L527.0,536.6 L528.0,536.4 L529.0,536.3 L530.0,536.2 L531.0,536.1 L532.0,535.9 L533.0,535.8 L534.0,535.7 L535.0,535.5 L536.0,535.4 L537.0,535.2 L538.0,535.1 L539.0,534.9 L540.0,534.7 L541.0,534.6 L542.0,534.4 L543.0,534.2 L544.0,534.0 L545.0,533.8 L546.0,533.6 L547.0,533.4 L548.0,533.1 L549.0,532.9 L550.0,532.6 L551.0,532.3 L552.0,532.0 L553.0,531.7 L554.0,531.4 L555.0,531.0 L556.0,530.6 L557.0,530.3 L558.0,529.8 L559.0,529.4 L560.0,528.9 L561.0,528.5 L562.0,527.9 L563.0,527.4 L564.0,526.8 L565.0,526.3 L566.0,525.6 L567.0,525.0 L568.0,524.3 L569.0,523.6 L570.0,522.8 L571.0,522.0 L572.0,521.2 L573.0,520.3 L574.0,519.4 L575.0,518.5 L576.0,517.5 L577.0,516.5 L578.0,515.4 L579.0,514.3 L580.0,513.2 L581.0,512.0 L582.0,510.8 L583.0,509.5 L584.0,508.2 L585.0,506.8 L586.0,505.4 L587.0,504.0 L588.0,502.5 L589.0,501.0 L590.0,499.5 L591.0,497.9 L592.0,496.3 L593.0,494.6 L594.0,492.9 L595.0,491.2 L596.0,489.4 L597.0,487.6 L598.0,485.8 L599.0,484.0 L600.0,482.1 L601.0,480.2 L602.0,478.3 L603.0,476.4 L604.0,474.5 L605.0,472.5 L606.0,470.6 L607.0,468.6 L608.0,466.7 L609.0,464.8 L610.0,462.8 L611.0,460.9 L612.0,459.0 L613.0,457.1 L614.0,455.3 L615.0,453.4 L616.0,451.6 L617.0,449.9 L618.0,448.1 L619.0,446.5 L620.0,444.8 L621.0,443.2 L622.0,441.7 L623.0,440.2 L624.0,438.8 L625.0,437.5 L626.0,436.2 L627.0,435.0 L628.0,433.8 L629.0,432.8 L630.0,431.8 L631.0,430.9 L632.0,430.1 L633.0,429.4 L634.0,428.7 L635.0,428.2 L636.0,427.7 L637.0,427.3 L638.0,427.0 L639.0,426.9 L640.0,426.8 L641.0,426.8 L642.0,426.9 L643.0,427.1 L644.0,427.3 L645.0,427.7 L646.0,428.2 L647.0,428.7 L648.0,429.4 L649.0,430.1 L650.0,430.9 L651.0,431.8 L652.0,432.8 L653.0,433.8 L654.0,434.9 L655.0,436.1 L656.0,437.4 L657.0,438.7 L658.0,440.1 L659.0,441.5 L660.0,443.0 L661.0,444.6 L662.0,446.2 L663.0,447.8 L664.0,449.5 L665.0,451.2 L666.0,452.9 L667.0,454.7 L668.0,456.5 L669.0,458.3 L670.0,460.1 L671.0,461.9 L672.0,463.8 L673.0,465.6 L674.0,467.5 L675.0,469.3 L676.0,471.1 L677.0,473.0 L678.0,474.8 L679.0,476.6 L680.0,478.4 L681.0,480.1 L682.0,481.9 L683.0,483.6 L684.0,485.3 L685.0,487.0 L686.0,488.6 L687.0,490.2 L688.0,491.8 L689.0,493.3 L690.0,494.8 L691.0,496.2 L692.0,497.6 L693.0,499.0 L694.0,500.3 L695.0,501.6 L696.0,502.9 L697.0,504.1 L698.0,505.2 L699.0,506.3 L700.0,507.4 L701.0,508.4 L702.0,509.3 L703.0,510.2 L704.0,511.1 L705.0,511.9 L706.0,512.7 L707.0,513.4 L708.0,514.1 L709.0,514.8 L710.0,515.4 L711.0,516.1 L712.0,516.6 L713.0,517.2 L714.0,517.7 L715.0,518.2 L716.0,518.7 L717.0,519.2 L718.0,519.6 L719.0,520.1 L720.0,520.5 L721.0,521.0 L722.0,521.5 L723.0,522.2 L724.0,522.9 L725.0,523.6 L726.0,524.4 L727.0,525.2 L728.0,526.0 L729.0,526.8 L730.0,527.6 L731.0,528.4 L732.0,529.1 L733.0,529.8 L734.0,530.5 L735.0,531.2 L736.0,532.0 L737.0,532.7 L738.0,533.5 L739.0,534.2 L740.0,535.0 L741.0,535.7 L742.0,536.5 L743.0,537.2 L744.0,537.9 L745.0,538.6 L746.0,539.3 L747.0,540.0 L748.0,540.7 L749.0,541.3 L750.0,542.0 L751.0,542.7 L752.0,543.3 L753.0,544.0 L754.0,544.7 L755.0,545.3 L756.0,545.9 L757.0,546.6 L758.0,547.2 L759.0,547.8 L760.0,548.3 L761.0,548.9 L762.0,549.5 L763.0,550.1 L764.0,550.6 L765.0,551.2 L766.0,551.8 L767.0,552.3 L768.0,552.8 L769.0,553.4 L770.0,553.8 L771.0,554.3 L772.0,554.7 L773.0,555.1 L774.0,555.5 L775.0,555.8 L776.0,556.1 L777.0,556.4 L778.0,556.7 L779.0,557.0 L780.0,557.3 L781.0,557.5 L782.0,557.7 L783.0,557.9 L784.0,558.0 L785.0,558.1 L786.0,558.2" fill="none" stroke="#1e3cff" stroke-width="4"/>
<text transform="translate(339.21,332.02) scale(1.0198,1)" font-size="35.00" fill="#dadada" style="font-family:Liberation Mono,monospace" stroke="#fff" stroke-width="0.4">Speed Mode Is On</text>
<g fill="none" stroke="#ff8010" stroke-width="1.7" stroke-linejoin="round"><path d="M191.3,554.8 L193.7,564.4 L202.0,564.2 L195.1,569.8 L197.9,579.2 L191.3,573.2 L184.7,579.2 L187.5,569.8 L180.6,564.2 L188.9,564.4Z"/><path d="M201.1,552.4 L203.5,562.0 L211.8,561.8 L204.9,567.4 L207.7,576.8 L201.1,570.8 L194.5,576.8 L197.3,567.4 L190.4,561.8 L198.7,562.0Z"/><path d="M210.9,547.4 L213.3,556.9 L221.6,556.7 L214.7,562.4 L217.5,571.8 L210.9,565.7 L204.3,571.8 L207.1,562.4 L200.2,556.7 L208.5,556.9Z"/><path d="M220.7,542.5 L223.1,552.0 L231.4,551.8 L224.5,557.5 L227.3,566.9 L220.7,560.8 L214.1,566.9 L216.9,557.5 L210.0,551.8 L218.3,552.0Z"/><path d="M230.5,537.1 L232.9,546.7 L241.2,546.4 L234.3,552.1 L237.1,561.5 L230.5,555.5 L223.9,561.5 L226.7,552.1 L219.8,546.4 L228.1,546.7Z"/><path d="M240.3,529.8 L242.7,539.3 L251.0,539.1 L244.1,544.8 L246.9,554.2 L240.3,548.1 L233.7,554.2 L236.5,544.8 L229.6,539.1 L237.9,539.3Z"/><path d="M250.1,515.5 L252.5,525.1 L260.8,524.9 L253.9,530.5 L256.7,540.0 L250.1,533.9 L243.5,540.0 L246.3,530.5 L239.4,524.9 L247.7,525.1Z"/><path d="M261.2,494.3 L263.6,503.9 L271.9,503.6 L265.0,509.3 L267.8,518.7 L261.2,512.7 L254.6,518.7 L257.4,509.3 L250.5,503.6 L258.8,503.9Z"/><path d="M270.5,469.6 L272.9,479.2 L281.2,478.9 L274.3,484.6 L277.1,494.0 L270.5,488.0 L263.9,494.0 L266.7,484.6 L259.8,478.9 L268.1,479.2Z"/><path d="M280.8,446.9 L283.2,456.5 L291.5,456.2 L284.6,461.9 L287.4,471.3 L280.8,465.3 L274.2,471.3 L277.0,461.9 L270.1,456.2 L278.4,456.5Z"/><path d="M290.1,420.1 L292.5,429.7 L300.8,429.4 L293.9,435.1 L296.7,444.5 L290.1,438.5 L283.5,444.5 L286.3,435.1 L279.4,429.4 L287.7,429.7Z"/><path d="M299.7,386.1 L302.1,395.7 L310.4,395.4 L303.5,401.1 L306.3,410.5 L299.7,404.5 L293.1,410.5 L295.9,401.1 L289.0,395.4 L297.3,395.7Z"/><path d="M309.4,347.1 L311.8,356.7 L320.1,356.4 L313.2,362.1 L316.0,371.5 L309.4,365.5 L302.8,371.5 L305.6,362.1 L298.7,356.4 L307.0,356.7Z"/><path d="M319.0,301.5 L321.4,311.1 L329.7,310.8 L322.8,316.5 L325.6,325.9 L319.0,319.9 L312.4,325.9 L315.2,316.5 L308.3,310.8 L316.6,311.1Z"/><path d="M328.5,251.2 L330.9,260.8 L339.2,260.5 L332.3,266.2 L335.1,275.6 L328.5,269.6 L321.9,275.6 L324.7,266.2 L317.8,260.5 L326.1,260.8Z"/><path d="M338.1,205.6 L340.5,215.2 L348.8,214.9 L341.9,220.6 L344.7,230.0 L338.1,224.0 L331.5,230.0 L334.3,220.6 L327.4,214.9 L335.7,215.2Z"/><path d="M348.0,170.2 L350.3,179.8 L358.6,179.5 L351.8,185.2 L354.6,194.6 L348.0,188.6 L341.4,194.6 L344.1,185.2 L337.3,179.5 L345.6,179.8Z"/><path d="M357.7,139.3 L360.0,148.9 L368.3,148.6 L361.5,154.3 L364.2,163.7 L357.7,157.7 L351.1,163.7 L353.8,154.3 L347.0,148.6 L355.3,148.9Z"/><path d="M367.3,118.4 L369.7,128.0 L378.0,127.8 L371.2,133.4 L373.9,142.9 L367.3,136.8 L360.7,142.9 L363.5,133.4 L356.7,127.8 L365.0,128.0Z"/><path d="M377.0,106.2 L379.4,115.8 L387.7,115.6 L380.8,121.2 L383.6,130.7 L377.0,124.6 L370.4,130.7 L373.2,121.2 L366.4,115.6 L374.6,115.8Z"/><path d="M386.7,101.8 L389.1,111.4 L397.3,111.1 L390.5,116.8 L393.3,126.2 L386.7,120.2 L380.1,126.2 L382.8,116.8 L376.0,111.1 L384.3,111.4Z"/><path d="M396.4,102.5 L398.7,112.0 L407.0,111.8 L400.2,117.5 L402.9,126.9 L396.4,120.8 L389.8,126.9 L392.5,117.5 L385.7,111.8 L394.0,112.0Z"/><path d="M406.0,101.3 L408.4,110.9 L416.7,110.6 L409.9,116.3 L412.6,125.7 L406.0,119.7 L399.5,125.7 L402.2,116.3 L395.4,110.6 L403.7,110.9Z"/><path d="M415.7,100.5 L418.1,110.0 L426.4,109.8 L419.5,115.5 L422.3,124.9 L415.7,118.8 L409.1,124.9 L411.9,115.5 L405.1,109.8 L413.3,110.0Z"/><path d="M425.4,107.7 L427.8,117.3 L436.0,117.0 L429.2,122.7 L432.0,132.1 L425.4,126.0 L418.8,132.1 L421.6,122.7 L414.7,117.0 L423.0,117.3Z"/><path d="M435.1,111.1 L437.4,120.7 L445.7,120.4 L438.9,126.1 L441.6,135.5 L435.1,129.4 L428.5,135.5 L431.2,126.1 L424.4,120.4 L432.7,120.7Z"/><path d="M444.7,106.6 L447.1,116.1 L455.4,115.9 L448.6,121.6 L451.3,131.0 L444.7,124.9 L438.2,131.0 L440.9,121.6 L434.1,115.9 L442.4,116.1Z"/><path d="M454.4,109.7 L456.8,119.3 L465.1,119.1 L458.3,124.7 L461.0,134.2 L454.4,128.1 L447.8,134.2 L450.6,124.7 L443.8,119.1 L452.0,119.3Z"/><path d="M464.1,123.1 L466.5,132.6 L474.7,132.4 L467.9,138.1 L470.7,147.5 L464.1,141.4 L457.5,147.5 L460.3,138.1 L453.4,132.4 L461.7,132.6Z"/><path d="M473.8,138.0 L476.1,147.5 L484.4,147.3 L477.6,153.0 L480.4,162.4 L473.8,156.3 L467.2,162.4 L469.9,153.0 L463.1,147.3 L471.4,147.5Z"/><path d="M483.4,151.4 L485.8,161.0 L494.1,160.7 L487.3,166.4 L490.0,175.8 L483.4,169.8 L476.9,175.8 L479.6,166.4 L472.8,160.7 L481.1,161.0Z"/><path d="M493.1,162.6 L495.5,172.2 L503.8,171.9 L497.0,177.6 L499.7,187.0 L493.1,180.9 L486.5,187.0 L489.3,177.6 L482.5,171.9 L490.8,172.2Z"/><path d="M502.8,177.5 L505.2,187.1 L513.5,186.8 L506.6,192.5 L509.4,201.9 L502.8,195.9 L496.2,201.9 L499.0,192.5 L492.2,186.8 L500.4,187.1Z"/><path d="M512.5,194.5 L514.8,204.1 L523.1,203.8 L516.3,209.5 L519.1,218.9 L512.5,212.9 L505.9,218.9 L508.6,209.5 L501.8,203.8 L510.1,204.1Z"/><path d="M522.2,208.5 L524.5,218.1 L532.8,217.9 L526.0,223.6 L528.7,233.0 L522.2,226.9 L515.6,233.0 L518.3,223.6 L511.5,217.9 L519.8,218.1Z"/><path d="M531.8,221.5 L534.2,231.0 L542.5,230.8 L535.7,236.5 L538.4,245.9 L531.8,239.8 L525.2,245.9 L528.0,236.5 L521.2,230.8 L529.5,231.0Z"/><path d="M541.5,242.6 L543.9,252.2 L552.2,251.9 L545.3,257.6 L548.1,267.0 L541.5,260.9 L534.9,267.0 L537.7,257.6 L530.9,251.9 L539.1,252.2Z"/><path d="M551.2,260.7 L553.6,270.3 L561.8,270.0 L555.0,275.7 L557.8,285.1 L551.2,279.0 L544.6,285.1 L547.4,275.7 L540.5,270.0 L548.8,270.3Z"/><path d="M560.9,274.7 L563.2,284.2 L571.5,284.0 L564.7,289.7 L567.4,299.1 L560.9,293.0 L554.3,299.1 L557.0,289.7 L550.2,284.0 L558.5,284.2Z"/><path d="M570.5,283.6 L572.9,293.2 L581.2,292.9 L574.4,298.6 L577.1,308.0 L570.5,302.0 L564.0,308.0 L566.7,298.6 L559.9,292.9 L568.2,293.2Z"/><path d="M580.2,283.9 L582.6,293.5 L590.9,293.3 L584.0,298.9 L586.8,308.4 L580.2,302.3 L573.6,308.4 L576.4,298.9 L569.6,293.3 L577.8,293.5Z"/><path d="M589.9,294.7 L592.3,304.3 L600.5,304.0 L593.7,309.7 L596.5,319.1 L589.9,313.1 L583.3,319.1 L586.1,309.7 L579.2,304.0 L587.5,304.3Z"/><path d="M599.6,311.2 L601.9,320.7 L610.2,320.5 L603.4,326.2 L606.2,335.6 L599.6,329.5 L593.0,335.6 L595.7,326.2 L588.9,320.5 L597.2,320.7Z"/><path d="M609.2,325.5 L611.6,335.1 L619.9,334.8 L613.1,340.5 L615.8,349.9 L609.2,343.9 L602.7,349.9 L605.4,340.5 L598.6,334.8 L606.9,335.1Z"/><path d="M618.9,344.0 L621.3,353.6 L629.6,353.3 L622.8,359.0 L625.5,368.4 L618.9,362.4 L612.3,368.4 L615.1,359.0 L608.3,353.3 L616.6,353.6Z"/><path d="M628.6,351.7 L631.0,361.3 L639.2,361.0 L632.4,366.7 L635.2,376.1 L628.6,370.1 L622.0,376.1 L624.8,366.7 L617.9,361.0 L626.2,361.3Z"/><path d="M638.3,348.7 L640.6,358.3 L648.9,358.0 L642.1,363.7 L644.9,373.1 L638.3,367.0 L631.7,373.1 L634.4,363.7 L627.6,358.0 L635.9,358.3Z"/><path d="M648.0,358.5 L650.3,368.0 L658.6,367.8 L651.8,373.5 L654.5,382.9 L648.0,376.8 L641.4,382.9 L644.1,373.5 L637.3,367.8 L645.6,368.0Z"/><path d="M657.6,378.6 L660.0,388.1 L668.3,387.9 L661.5,393.6 L664.2,403.0 L657.6,396.9 L651.0,403.0 L653.8,393.6 L647.0,387.9 L655.3,388.1Z"/><path d="M667.3,399.1 L669.7,408.6 L678.0,408.4 L671.1,414.1 L673.9,423.5 L667.3,417.4 L660.7,423.5 L663.5,414.1 L656.7,408.4 L664.9,408.6Z"/><path d="M677.0,424.4 L679.4,433.9 L687.6,433.7 L680.8,439.4 L683.6,448.8 L677.0,442.7 L670.4,448.8 L673.1,439.4 L666.3,433.7 L674.6,433.9Z"/><path d="M686.7,451.5 L689.0,461.0 L697.3,460.8 L690.5,466.5 L693.2,475.9 L686.7,469.8 L680.1,475.9 L682.8,466.5 L676.0,460.8 L684.3,461.0Z"/><path d="M696.3,471.1 L698.7,480.6 L707.0,480.4 L700.2,486.1 L702.9,495.5 L696.3,489.4 L689.8,495.5 L692.5,486.1 L685.7,480.4 L694.0,480.6Z"/><path d="M706.0,484.0 L708.4,493.5 L716.7,493.3 L709.8,499.0 L712.6,508.4 L706.0,502.3 L699.4,508.4 L702.2,499.0 L695.4,493.3 L703.6,493.5Z"/><path d="M715.7,496.1 L718.1,505.7 L726.3,505.5 L719.5,511.1 L722.3,520.5 L715.7,514.5 L709.1,520.5 L711.9,511.1 L705.0,505.5 L713.3,505.7Z"/><path d="M725.4,503.2 L727.7,512.8 L736.0,512.5 L729.2,518.2 L731.9,527.6 L725.4,521.6 L718.8,527.6 L721.5,518.2 L714.7,512.5 L723.0,512.8Z"/><path d="M735.0,512.6 L737.4,522.2 L745.7,522.0 L738.9,527.6 L741.6,537.1 L735.0,531.0 L728.5,537.1 L731.2,527.6 L724.4,522.0 L732.7,522.2Z"/><path d="M744.7,520.5 L747.1,530.1 L755.4,529.9 L748.6,535.6 L751.3,545.0 L744.7,538.9 L738.1,545.0 L740.9,535.6 L734.1,529.9 L742.3,530.1Z"/><path d="M754.4,528.0 L756.8,537.6 L765.0,537.4 L758.2,543.0 L761.0,552.5 L754.4,546.4 L747.8,552.5 L750.6,543.0 L743.7,537.4 L752.0,537.6Z"/><path d="M764.1,535.4 L766.4,544.9 L774.7,544.7 L767.9,550.4 L770.7,559.8 L764.1,553.7 L757.5,559.8 L760.2,550.4 L753.4,544.7 L761.7,544.9Z"/><path d="M773.7,544.1 L776.1,553.7 L784.4,553.4 L777.6,559.1 L780.3,568.5 L773.7,562.4 L767.2,568.5 L769.9,559.1 L763.1,553.4 L771.4,553.7Z"/><path d="M783.4,548.1 L785.8,557.7 L794.1,557.5 L787.3,563.2 L790.0,572.6 L783.4,566.5 L776.8,572.6 L779.6,563.2 L772.8,557.5 L781.1,557.7Z"/><path d="M793.1,551.5 L795.5,561.1 L803.8,560.8 L796.9,566.5 L799.7,575.9 L793.1,569.9 L786.5,575.9 L789.3,566.5 L782.4,560.8 L790.7,561.1Z"/></g>
<g fill="#ff8010" stroke="#ff8010" stroke-width="0.8" stroke-linejoin="round"><path d="M191.3,573.2 L184.7,579.2 L187.5,569.8 L180.6,564.2 L188.9,564.4 L191.3,554.8Z"/><path d="M201.1,570.8 L194.5,576.8 L197.3,567.4 L190.4,561.8 L198.7,562.0 L201.1,552.4Z"/><path d="M210.9,565.7 L204.3,571.8 L207.1,562.4 L200.2,556.7 L208.5,556.9 L210.9,547.4Z"/><path d="M220.7,560.8 L214.1,566.9 L216.9,557.5 L210.0,551.8 L218.3,552.0 L220.7,542.5Z"/><path d="M230.5,555.5 L223.9,561.5 L226.7,552.1 L219.8,546.4 L228.1,546.7 L230.5,537.1Z"/><path d="M240.3,548.1 L233.7,554.2 L236.5,544.8 L229.6,539.1 L237.9,539.3 L240.3,529.8Z"/><path d="M250.1,533.9 L243.5,540.0 L246.3,530.5 L239.4,524.9 L247.7,525.1 L250.1,515.5Z"/><path d="M261.2,512.7 L254.6,518.7 L257.4,509.3 L250.5,503.6 L258.8,503.9 L261.2,494.3Z"/><path d="M270.5,488.0 L263.9,494.0 L266.7,484.6 L259.8,478.9 L268.1,479.2 L270.5,469.6Z"/><path d="M280.8,465.3 L274.2,471.3 L277.0,461.9 L270.1,456.2 L278.4,456.5 L280.8,446.9Z"/><path d="M290.1,438.5 L283.5,444.5 L286.3,435.1 L279.4,429.4 L287.7,429.7 L290.1,420.1Z"/><path d="M299.7,404.5 L293.1,410.5 L295.9,401.1 L289.0,395.4 L297.3,395.7 L299.7,386.1Z"/><path d="M309.4,365.5 L302.8,371.5 L305.6,362.1 L298.7,356.4 L307.0,356.7 L309.4,347.1Z"/><path d="M319.0,319.9 L312.4,325.9 L315.2,316.5 L308.3,310.8 L316.6,311.1 L319.0,301.5Z"/><path d="M328.5,269.6 L321.9,275.6 L324.7,266.2 L317.8,260.5 L326.1,260.8 L328.5,251.2Z"/><path d="M338.1,224.0 L331.5,230.0 L334.3,220.6 L327.4,214.9 L335.7,215.2 L338.1,205.6Z"/><path d="M348.0,188.6 L341.4,194.6 L344.1,185.2 L337.3,179.5 L345.6,179.8 L348.0,170.2Z"/><path d="M357.7,157.7 L351.1,163.7 L353.8,154.3 L347.0,148.6 L355.3,148.9 L357.7,139.3Z"/><path d="M367.3,136.8 L360.7,142.9 L363.5,133.4 L356.7,127.8 L365.0,128.0 L367.3,118.4Z"/><path d="M377.0,124.6 L370.4,130.7 L373.2,121.2 L366.4,115.6 L374.6,115.8 L377.0,106.2Z"/><path d="M386.7,120.2 L380.1,126.2 L382.8,116.8 L376.0,111.1 L384.3,111.4 L386.7,101.8Z"/><path d="M396.4,120.8 L389.8,126.9 L392.5,117.5 L385.7,111.8 L394.0,112.0 L396.4,102.5Z"/><path d="M406.0,119.7 L399.5,125.7 L402.2,116.3 L395.4,110.6 L403.7,110.9 L406.0,101.3Z"/><path d="M415.7,118.8 L409.1,124.9 L411.9,115.5 L405.1,109.8 L413.3,110.0 L415.7,100.5Z"/><path d="M425.4,126.0 L418.8,132.1 L421.6,122.7 L414.7,117.0 L423.0,117.3 L425.4,107.7Z"/><path d="M435.1,129.4 L428.5,135.5 L431.2,126.1 L424.4,120.4 L432.7,120.7 L435.1,111.1Z"/><path d="M444.7,124.9 L438.2,131.0 L440.9,121.6 L434.1,115.9 L442.4,116.1 L444.7,106.6Z"/><path d="M454.4,128.1 L447.8,134.2 L450.6,124.7 L443.8,119.1 L452.0,119.3 L454.4,109.7Z"/><path d="M464.1,141.4 L457.5,147.5 L460.3,138.1 L453.4,132.4 L461.7,132.6 L464.1,123.1Z"/><path d="M473.8,156.3 L467.2,162.4 L469.9,153.0 L463.1,147.3 L471.4,147.5 L473.8,138.0Z"/><path d="M483.4,169.8 L476.9,175.8 L479.6,166.4 L472.8,160.7 L481.1,161.0 L483.4,151.4Z"/><path d="M493.1,180.9 L486.5,187.0 L489.3,177.6 L482.5,171.9 L490.8,172.2 L493.1,162.6Z"/><path d="M502.8,195.9 L496.2,201.9 L499.0,192.5 L492.2,186.8 L500.4,187.1 L502.8,177.5Z"/><path d="M512.5,212.9 L505.9,218.9 L508.6,209.5 L501.8,203.8 L510.1,204.1 L512.5,194.5Z"/><path d="M522.2,226.9 L515.6,233.0 L518.3,223.6 L511.5,217.9 L519.8,218.1 L522.2,208.5Z"/><path d="M531.8,239.8 L525.2,245.9 L528.0,236.5 L521.2,230.8 L529.5,231.0 L531.8,221.5Z"/><path d="M541.5,260.9 L534.9,267.0 L537.7,257.6 L530.9,251.9 L539.1,252.2 L541.5,242.6Z"/><path d="M551.2,279.0 L544.6,285.1 L547.4,275.7 L540.5,270.0 L548.8,270.3 L551.2,260.7Z"/><path d="M560.9,293.0 L554.3,299.1 L557.0,289.7 L550.2,284.0 L558.5,284.2 L560.9,274.7Z"/><path d="M570.5,302.0 L564.0,308.0 L566.7,298.6 L559.9,292.9 L568.2,293.2 L570.5,283.6Z"/><path d="M580.2,302.3 L573.6,308.4 L576.4,298.9 L569.6,293.3 L577.8,293.5 L580.2,283.9Z"/><path d="M589.9,313.1 L583.3,319.1 L586.1,309.7 L579.2,304.0 L587.5,304.3 L589.9,294.7Z"/><path d="M599.6,329.5 L593.0,335.6 L595.7,326.2 L588.9,320.5 L597.2,320.7 L599.6,311.2Z"/><path d="M609.2,343.9 L602.7,349.9 L605.4,340.5 L598.6,334.8 L606.9,335.1 L609.2,325.5Z"/><path d="M618.9,362.4 L612.3,368.4 L615.1,359.0 L608.3,353.3 L616.6,353.6 L618.9,344.0Z"/><path d="M628.6,370.1 L622.0,376.1 L624.8,366.7 L617.9,361.0 L626.2,361.3 L628.6,351.7Z"/><path d="M638.3,367.0 L631.7,373.1 L634.4,363.7 L627.6,358.0 L635.9,358.3 L638.3,348.7Z"/><path d="M648.0,376.8 L641.4,382.9 L644.1,373.5 L637.3,367.8 L645.6,368.0 L648.0,358.5Z"/><path d="M657.6,396.9 L651.0,403.0 L653.8,393.6 L647.0,387.9 L655.3,388.1 L657.6,378.6Z"/><path d="M667.3,417.4 L660.7,423.5 L663.5,414.1 L656.7,408.4 L664.9,408.6 L667.3,399.1Z"/><path d="M677.0,442.7 L670.4,448.8 L673.1,439.4 L666.3,433.7 L674.6,433.9 L677.0,424.4Z"/><path d="M686.7,469.8 L680.1,475.9 L682.8,466.5 L676.0,460.8 L684.3,461.0 L686.7,451.5Z"/><path d="M696.3,489.4 L689.8,495.5 L692.5,486.1 L685.7,480.4 L694.0,480.6 L696.3,471.1Z"/><path d="M706.0,502.3 L699.4,508.4 L702.2,499.0 L695.4,493.3 L703.6,493.5 L706.0,484.0Z"/><path d="M715.7,514.5 L709.1,520.5 L711.9,511.1 L705.0,505.5 L713.3,505.7 L715.7,496.1Z"/><path d="M725.4,521.6 L718.8,527.6 L721.5,518.2 L714.7,512.5 L723.0,512.8 L725.4,503.2Z"/><path d="M735.0,531.0 L728.5,537.1 L731.2,527.6 L724.4,522.0 L732.7,522.2 L735.0,512.6Z"/><path d="M744.7,538.9 L738.1,545.0 L740.9,535.6 L734.1,529.9 L742.3,530.1 L744.7,520.5Z"/><path d="M754.4,546.4 L747.8,552.5 L750.6,543.0 L743.7,537.4 L752.0,537.6 L754.4,528.0Z"/><path d="M764.1,553.7 L757.5,559.8 L760.2,550.4 L753.4,544.7 L761.7,544.9 L764.1,535.4Z"/><path d="M773.7,562.4 L767.2,568.5 L769.9,559.1 L763.1,553.4 L771.4,553.7 L773.7,544.1Z"/><path d="M783.4,566.5 L776.8,572.6 L779.6,563.2 L772.8,557.5 L781.1,557.7 L783.4,548.1Z"/><path d="M793.1,569.9 L786.5,575.9 L789.3,566.5 L782.4,560.8 L790.7,561.1 L793.1,551.5Z"/></g>
<path d="M212.0,558.0 L213.0,557.8 L214.0,557.6 L215.0,557.3 L216.0,557.0 L217.0,556.7 L218.0,556.3 L219.0,555.8 L220.0,555.3 L221.0,554.8 L222.0,554.3 L223.0,553.7 L224.0,553.1 L225.0,552.5 L226.0,551.9 L227.0,551.3 L228.0,550.6 L229.0,549.8 L230.0,549.1 L231.0,548.2 L232.0,547.4 L233.0,546.6 L234.0,545.7 L235.0,544.9 L236.0,544.1 L237.0,543.3 L238.0,542.5 L239.0,541.7 L240.0,540.9 L241.0,540.1 L242.0,539.3 L243.0,538.4 L244.0,537.5 L245.0,536.5 L246.0,535.5 L247.0,534.5 L248.0,533.4 L249.0,532.2 L250.0,531.0 L251.0,529.8 L252.0,528.5 L253.0,527.1 L254.0,525.7 L255.0,524.2 L256.0,522.6 L257.0,520.9 L258.0,519.2 L259.0,517.3 L260.0,515.3 L261.0,513.1 L262.0,510.9 L263.0,508.6 L264.0,506.2 L265.0,503.8 L266.0,501.4 L267.0,499.0 L268.0,496.5 L269.0,494.0 L270.0,491.5 L271.0,488.9 L272.0,486.2 L273.0,483.5 L274.0,480.7 L275.0,477.9 L276.0,475.0 L277.0,472.0 L278.0,468.9 L279.0,465.8 L280.0,462.7 L281.0,459.6 L282.0,456.3 L283.0,453.1 L284.0,449.8 L285.0,446.5 L286.0,443.2 L287.0,440.0 L288.0,437.0 L289.0,434.2 L290.0,431.4 L291.0,428.6 L292.0,425.7 L293.0,422.5 L294.0,418.9 L295.0,414.7 L296.0,409.9 L297.0,404.9 L298.0,399.7 L299.0,394.6 L300.0,389.8 L301.0,385.4 L302.0,381.3 L303.0,377.3 L304.0,373.4 L305.0,369.5 L306.0,365.6 L307.0,361.4 L308.0,357.0 L309.0,352.6 L310.0,348.2 L311.0,344.0 L312.0,339.9 L313.0,335.9 L314.0,332.0 L315.0,328.0 L316.0,324.1 L317.0,320.4 L318.0,316.6 L319.0,312.4 L320.0,307.5 L321.0,300.9 L322.0,293.9 L323.0,287.6 L324.0,281.8 L325.0,276.4 L326.0,271.7 L327.0,267.5 L328.0,263.7 L329.0,259.9 L330.0,255.9 L331.0,251.6 L332.0,247.2 L333.0,242.7 L334.0,238.4 L335.0,234.4 L336.0,230.5 L337.0,226.7 L338.0,223.0 L339.0,219.3 L340.0,215.8 L341.0,212.3 L342.0,209.1 L343.0,205.9 L344.0,202.5 L345.0,198.8 L346.0,194.6 L347.0,190.2 L348.0,186.0 L349.0,182.2 L350.0,178.5 L351.0,175.0 L352.0,171.4 L353.0,167.8 L354.0,164.1 L355.0,160.5 L356.0,157.2 L357.0,154.3 L358.0,151.6 L359.0,149.1 L360.0,146.8 L361.0,144.6 L362.0,142.5 L363.0,140.5 L364.0,138.7 L365.0,137.0 L366.0,135.3 L367.0,133.7 L368.0,132.0 L369.0,130.4 L370.0,128.8 L371.0,127.4 L372.0,126.0 L373.0,124.7 L374.0,123.5 L375.0,122.3 L376.0,121.2 L377.0,120.2 L378.0,119.3 L379.0,118.7 L380.0,118.3 L381.0,117.9 L382.0,117.7 L383.0,117.4 L384.0,117.2 L385.0,116.9 L386.0,116.6 L387.0,116.2 L388.0,115.7 L389.0,115.2 L390.0,115.0 L391.0,115.0 L392.0,115.0 L393.0,115.0 L394.0,115.0 L395.0,115.0 L396.0,115.0 L397.0,115.0 L398.0,115.0 L399.0,115.0 L400.0,115.0 L401.0,115.0 L402.0,115.0 L403.0,115.0 L404.0,115.0 L405.0,115.0 L406.0,115.1 L407.0,115.1 L408.0,115.2 L409.0,115.2 L410.0,115.3 L411.0,115.3 L412.0,115.4 L413.0,115.4 L414.0,115.5 L415.0,115.6 L416.0,115.8 L417.0,116.3 L418.0,116.9 L419.0,117.7 L420.0,118.3 L421.0,118.8 L422.0,119.3 L423.0,119.8 L424.0,120.3 L425.0,120.8 L426.0,121.2 L427.0,121.6 L428.0,122.0 L429.0,122.3 L430.0,122.6 L431.0,122.7 L432.0,122.9 L433.0,123.0 L434.0,123.1 L435.0,123.2 L436.0,123.2 L437.0,122.9 L438.0,122.3 L439.0,121.7 L440.0,121.1 L441.0,120.8 L442.0,120.8 L443.0,120.9 L444.0,121.0 L445.0,121.1 L446.0,121.2 L447.0,121.4 L448.0,121.6 L449.0,121.8 L450.0,122.1 L451.0,122.4 L452.0,122.9 L453.0,123.5 L454.0,124.3 L455.0,125.1 L456.0,126.2 L457.0,127.4 L458.0,128.8 L459.0,130.2 L460.0,131.7 L461.0,133.1 L462.0,134.4 L463.0,135.7 L464.0,137.0 L465.0,138.3 L466.0,139.6 L467.0,140.9 L468.0,142.2 L469.0,143.4 L470.0,144.6 L471.0,145.8 L472.0,147.0 L473.0,148.3 L474.0,149.6 L475.0,151.0 L476.0,152.4 L477.0,153.8 L478.0,155.2 L479.0,156.6 L480.0,158.0 L481.0,159.3 L482.0,160.6 L483.0,161.9 L484.0,163.2 L485.0,164.5 L486.0,165.8 L487.0,167.1 L488.0,168.4 L489.0,169.7 L490.0,171.0 L491.0,172.3 L492.0,173.7 L493.0,175.1 L494.0,176.4 L495.0,177.8 L496.0,179.2 L497.0,180.6 L498.0,182.0 L499.0,183.4 L500.0,184.9 L501.0,186.3 L502.0,187.8 L503.0,189.3 L504.0,190.8 L505.0,192.4 L506.0,194.0 L507.0,195.7 L508.0,197.6 L509.0,199.5 L510.0,201.4 L511.0,203.4 L512.0,205.3 L513.0,207.3 L514.0,209.2 L515.0,211.0 L516.0,212.7 L517.0,214.4 L518.0,216.0 L519.0,217.7 L520.0,219.3 L521.0,220.9 L522.0,222.4 L523.0,224.0 L524.0,225.5 L525.0,227.1 L526.0,228.6 L527.0,230.1 L528.0,231.6 L529.0,233.0 L530.0,234.4 L531.0,235.8 L532.0,237.3 L533.0,238.7 L534.0,240.3 L535.0,241.9 L536.0,243.7 L537.0,245.6 L538.0,247.7 L539.0,249.8 L540.0,252.0 L541.0,254.2 L542.0,256.4 L543.0,258.7 L544.0,260.9 L545.0,263.1 L546.0,265.1 L547.0,267.0 L548.0,268.7 L549.0,270.4 L550.0,272.0 L551.0,273.6 L552.0,275.2 L553.0,276.7 L554.0,278.2 L555.0,279.7 L556.0,281.2 L557.0,282.6 L558.0,284.1 L559.0,285.6 L560.0,287.3 L561.0,289.1 L562.0,290.9 L563.0,292.6 L564.0,294.2 L565.0,295.6 L566.0,296.6 L567.0,297.5 L568.0,298.2 L569.0,298.5 L570.0,298.5 L571.0,298.5 L572.0,298.4 L573.0,298.3 L574.0,298.3 L575.0,298.2 L576.0,298.1 L577.0,298.1 L578.0,298.0 L579.0,298.0 L580.0,297.9 L581.0,297.9 L582.0,298.2 L583.0,299.1 L584.0,300.2 L585.0,301.3 L586.0,302.5 L587.0,303.9 L588.0,305.3 L589.0,306.9 L590.0,308.5 L591.0,310.4 L592.0,312.2 L593.0,314.1 L594.0,316.1 L595.0,318.0 L596.0,319.9 L597.0,321.7 L598.0,323.4 L599.0,325.0 L600.0,326.4 L601.0,327.8 L602.0,329.2 L603.0,330.5 L604.0,331.9 L605.0,333.4 L606.0,334.9 L607.0,336.4 L608.0,338.0 L609.0,339.7 L610.0,341.3 L611.0,343.0 L612.0,344.6 L613.0,346.3 L614.0,348.0 L615.0,349.7 L616.0,351.5 L617.0,353.4 L618.0,355.6 L619.0,357.9 L620.0,359.9 L621.0,361.2 L622.0,362.2 L623.0,363.0 L624.0,363.5 L625.0,363.7 L626.0,363.7 L627.0,363.6 L628.0,363.5 L629.0,363.3 L630.0,363.2 L631.0,363.1 L632.0,362.9 L633.0,362.7 L634.0,362.5 L635.0,362.3 L636.0,362.1 L637.0,361.9 L638.0,361.8 L639.0,361.7 L640.0,361.8 L641.0,362.1 L642.0,362.7 L643.0,363.4 L644.0,364.4 L645.0,366.2 L646.0,368.5 L647.0,370.9 L648.0,373.2 L649.0,375.5 L650.0,378.0 L651.0,380.4 L652.0,382.7 L653.0,384.7 L654.0,386.6 L655.0,388.4 L656.0,390.2 L657.0,392.0 L658.0,393.9 L659.0,395.9 L660.0,397.9 L661.0,399.9 L662.0,401.9 L663.0,403.9 L664.0,405.8 L665.0,407.7 L666.0,409.8 L667.0,412.1 L668.0,414.5 L669.0,417.1 L670.0,419.9 L671.0,422.7 L672.0,425.7 L673.0,428.8 L674.0,431.8 L675.0,434.5 L676.0,437.0 L677.0,439.4 L678.0,441.9 L679.0,444.5 L680.0,447.1 L681.0,449.8 L682.0,452.6 L683.0,455.5 L684.0,458.7 L685.0,461.9 L686.0,464.8 L687.0,467.3 L688.0,469.4 L689.0,471.3 L690.0,473.2 L691.0,475.1 L692.0,476.9 L693.0,478.7 L694.0,480.5 L695.0,482.2 L696.0,483.9 L697.0,485.6 L698.0,487.3 L699.0,488.9 L700.0,490.5 L701.0,492.1 L702.0,493.5 L703.0,494.9 L704.0,496.4 L705.0,497.8 L706.0,499.5 L707.0,501.3 L708.0,503.0 L709.0,504.3 L710.0,505.4 L711.0,506.3 L712.0,507.1 L713.0,507.8 L714.0,508.5 L715.0,509.2 L716.0,509.9 L717.0,510.7 L718.0,511.4 L719.0,512.2 L720.0,513.1 L721.0,513.9 L722.0,514.7 L723.0,515.5 L724.0,516.3 L725.0,517.1 L726.0,517.9 L727.0,518.7 L728.0,519.5 L729.0,520.3 L730.0,521.1 L731.0,521.9 L732.0,522.7 L733.0,523.5 L734.0,524.3 L735.0,525.1 L736.0,525.9 L737.0,526.7 L738.0,527.4 L739.0,528.2 L740.0,529.0 L741.0,529.8 L742.0,530.6 L743.0,531.4 L744.0,532.2 L745.0,533.0 L746.0,533.9 L747.0,534.7 L748.0,535.5 L749.0,536.3 L750.0,537.1 L751.0,537.9 L752.0,538.7 L753.0,539.5 L754.0,540.3 L755.0,541.0 L756.0,541.8 L757.0,542.6 L758.0,543.3 L759.0,544.1 L760.0,544.8 L761.0,545.6 L762.0,546.3 L763.0,547.1 L764.0,547.9 L765.0,548.6 L766.0,549.3 L767.0,549.9 L768.0,550.5 L769.0,551.0 L770.0,551.5 L771.0,552.0 L772.0,552.5 L773.0,552.9 L774.0,553.3 L775.0,553.8 L776.0,554.1 L777.0,554.5 L778.0,554.9 L779.0,555.2 L780.0,555.5 L781.0,555.8 L782.0,556.1 L783.0,556.3 L784.0,556.5 L785.0,556.8 L786.0,557.0 L787.0,557.2 L788.0,557.4 L789.0,557.6 L790.0,557.8 L791.0,558.0 L792.0,558.2 L793.0,558.3 L794.0,558.4 L795.0,558.5" fill="none" stroke="#2c3036" stroke-width="3.4"/>
</g>
<g fill="#660033"><path d="M183.2,37.5 L176,37.5 L171,40.5 L176,43.5 L183.2,43.5 Z"/><path d="M183.2,139.0 L176,139.0 L171,142.0 L176,145.0 L183.2,145.0 Z"/><path d="M183.2,240.5 L176,240.5 L171,243.5 L176,246.5 L183.2,246.5 Z"/><path d="M183.2,343.8 L176,343.8 L171,346.8 L176,349.8 L183.2,349.8 Z"/><path d="M183.2,446.5 L176,446.5 L171,449.5 L176,452.5 L183.2,452.5 Z"/><path d="M183.2,551.0 L176,551.0 L171,554.0 L176,557.0 L183.2,557.0 Z"/><path d="M183.2,88.0 L176,91.0 L183.2,94.0 Z"/><path d="M183.2,189.7 L176,192.7 L183.2,195.7 Z"/><path d="M183.2,292.5 L176,295.5 L183.2,298.5 Z"/><path d="M183.2,395.0 L176,398.0 L183.2,401.0 Z"/><path d="M183.2,498.5 L176,501.5 L183.2,504.5 Z"/><path d="M180.2,561.2 L180.2,570 L183.2,575.5 L186.2,570 L186.2,561.2 Z"/><path d="M368.0,561.2 L368.0,570 L371.0,575.5 L374.0,570 L374.0,561.2 Z"/><path d="M556.5,561.2 L556.5,570 L559.5,575.5 L562.5,570 L562.5,561.2 Z"/><path d="M745.0,561.2 L745.0,570 L748.0,575.5 L751.0,570 L751.0,561.2 Z"/><path d="M274.7,561.2 L277.7,570.5 L280.7,561.2 Z"/><path d="M462.5,561.2 L465.5,570.5 L468.5,561.2 Z"/><path d="M650.7,561.2 L653.7,570.5 L656.7,561.2 Z"/><path d="M838.5,561.2 L841.5,570.5 L844.5,561.2 Z"/></g>
<rect x="183.25" y="40.75" width="658.25" height="520.5" fill="none" stroke="#660033" stroke-width="6.5" stroke-linejoin="round"/>
<path d="M532.0,70.8 L534.6,81.1 L543.9,80.8 L536.3,86.9 L539.3,97.0 L532.0,90.5 L524.7,97.0 L527.7,86.9 L520.1,80.8 L529.4,81.1Z" fill="#ff8010" stroke="#ff8010" stroke-width="2" stroke-linejoin="round"/>
<path d="M535.3,83.8 L536.8,83.6 L538.6,92.2 L537,92.6 Z" fill="#fff"/>
</svg>
</body></html>
